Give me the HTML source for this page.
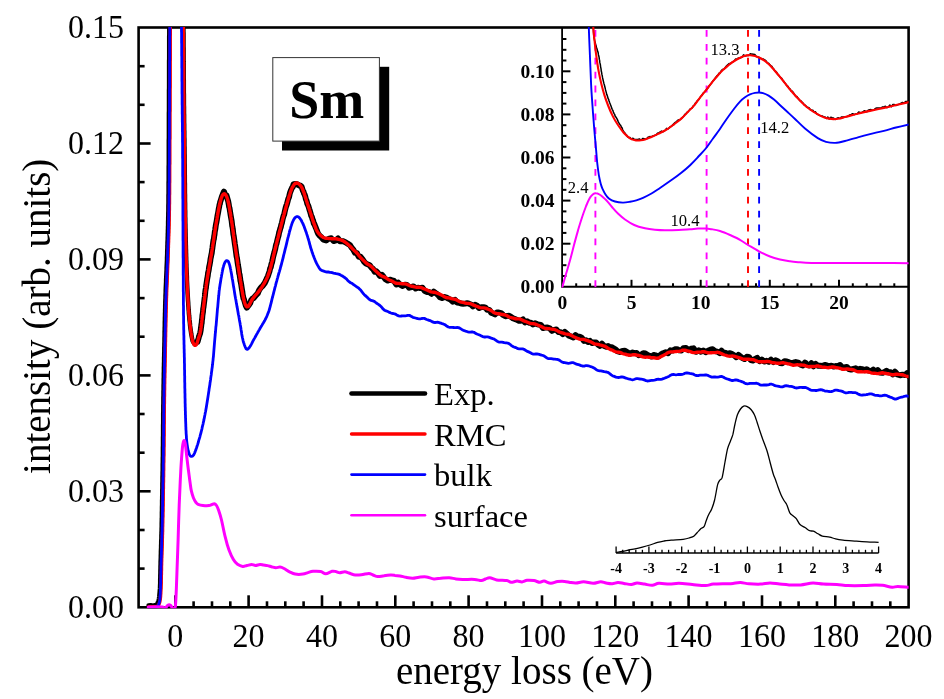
<!DOCTYPE html>
<html><head><meta charset="utf-8"><title>Sm EELS</title>
<style>html,body{margin:0;padding:0;background:#fff;}body{width:944px;height:699px;position:relative;overflow:hidden;font-family:"Liberation Serif",serif;}</style>
</head><body>
<svg width="944" height="699" viewBox="0 0 944 699" style="position:absolute;left:0;top:0;will-change:transform">
<defs><clipPath id="cm"><rect x="138.6" y="26.9" width="770.0" height="581.3"/></clipPath>
<clipPath id="ci"><rect x="561.4" y="26.9" width="347.2" height="260.8"/></clipPath></defs>
<g stroke="#000" stroke-width="2.6" fill="none">
<rect x="138.6" y="27.5" width="770.0" height="579.8"/>
<line x1="138.6" y1="568.6" x2="144.6" y2="568.6"/>
<line x1="138.6" y1="530.0" x2="144.6" y2="530.0"/>
<line x1="138.6" y1="491.3" x2="150.6" y2="491.3"/>
<line x1="138.6" y1="452.7" x2="144.6" y2="452.7"/>
<line x1="138.6" y1="414.0" x2="144.6" y2="414.0"/>
<line x1="138.6" y1="375.4" x2="150.6" y2="375.4"/>
<line x1="138.6" y1="336.7" x2="144.6" y2="336.7"/>
<line x1="138.6" y1="298.1" x2="144.6" y2="298.1"/>
<line x1="138.6" y1="259.4" x2="150.6" y2="259.4"/>
<line x1="138.6" y1="220.8" x2="144.6" y2="220.8"/>
<line x1="138.6" y1="182.1" x2="144.6" y2="182.1"/>
<line x1="138.6" y1="143.5" x2="150.6" y2="143.5"/>
<line x1="138.6" y1="104.8" x2="144.6" y2="104.8"/>
<line x1="138.6" y1="66.2" x2="144.6" y2="66.2"/>
<line x1="157.0" y1="607.3" x2="157.0" y2="601.3"/>
<line x1="175.3" y1="607.3" x2="175.3" y2="595.3"/>
<line x1="193.6" y1="607.3" x2="193.6" y2="601.3"/>
<line x1="212.0" y1="607.3" x2="212.0" y2="601.3"/>
<line x1="230.3" y1="607.3" x2="230.3" y2="601.3"/>
<line x1="248.6" y1="607.3" x2="248.6" y2="595.3"/>
<line x1="267.0" y1="607.3" x2="267.0" y2="601.3"/>
<line x1="285.3" y1="607.3" x2="285.3" y2="601.3"/>
<line x1="303.6" y1="607.3" x2="303.6" y2="601.3"/>
<line x1="322.0" y1="607.3" x2="322.0" y2="595.3"/>
<line x1="340.3" y1="607.3" x2="340.3" y2="601.3"/>
<line x1="358.6" y1="607.3" x2="358.6" y2="601.3"/>
<line x1="377.0" y1="607.3" x2="377.0" y2="601.3"/>
<line x1="395.3" y1="607.3" x2="395.3" y2="595.3"/>
<line x1="413.6" y1="607.3" x2="413.6" y2="601.3"/>
<line x1="432.0" y1="607.3" x2="432.0" y2="601.3"/>
<line x1="450.3" y1="607.3" x2="450.3" y2="601.3"/>
<line x1="468.6" y1="607.3" x2="468.6" y2="595.3"/>
<line x1="487.0" y1="607.3" x2="487.0" y2="601.3"/>
<line x1="505.3" y1="607.3" x2="505.3" y2="601.3"/>
<line x1="523.6" y1="607.3" x2="523.6" y2="601.3"/>
<line x1="542.0" y1="607.3" x2="542.0" y2="595.3"/>
<line x1="560.3" y1="607.3" x2="560.3" y2="601.3"/>
<line x1="578.6" y1="607.3" x2="578.6" y2="601.3"/>
<line x1="597.0" y1="607.3" x2="597.0" y2="601.3"/>
<line x1="615.3" y1="607.3" x2="615.3" y2="595.3"/>
<line x1="633.6" y1="607.3" x2="633.6" y2="601.3"/>
<line x1="652.0" y1="607.3" x2="652.0" y2="601.3"/>
<line x1="670.3" y1="607.3" x2="670.3" y2="601.3"/>
<line x1="688.6" y1="607.3" x2="688.6" y2="595.3"/>
<line x1="707.0" y1="607.3" x2="707.0" y2="601.3"/>
<line x1="725.3" y1="607.3" x2="725.3" y2="601.3"/>
<line x1="743.6" y1="607.3" x2="743.6" y2="601.3"/>
<line x1="762.0" y1="607.3" x2="762.0" y2="595.3"/>
<line x1="780.3" y1="607.3" x2="780.3" y2="601.3"/>
<line x1="798.6" y1="607.3" x2="798.6" y2="601.3"/>
<line x1="817.0" y1="607.3" x2="817.0" y2="601.3"/>
<line x1="835.3" y1="607.3" x2="835.3" y2="595.3"/>
<line x1="853.6" y1="607.3" x2="853.6" y2="601.3"/>
<line x1="872.0" y1="607.3" x2="872.0" y2="601.3"/>
<line x1="890.3" y1="607.3" x2="890.3" y2="601.3"/>
</g>
<g clip-path="url(#cm)" fill="none" stroke-linejoin="round" stroke-linecap="round">
<path d="M148.6 605.4 L150.6 605.2 L153.0 605.9 L155.8 604.9 L157.6 604.2 L158.2 602.7 L158.7 600.2 L159.0 598.6 L159.3 596.2 L159.5 594.0 L159.7 592.1 L159.8 590.5 L160.0 588.4 L160.1 585.1 L160.2 583.3 L160.2 581.6 L160.2 579.8 L160.3 577.9 L160.3 575.5 L160.4 573.1 L160.4 571.1 L160.5 568.4 L160.5 566.4 L160.6 564.0 L160.6 561.8 L160.7 559.8 L160.8 557.7 L160.8 555.8 L160.9 553.5 L160.9 551.7 L161.0 549.7 L161.1 547.7 L161.1 545.9 L161.2 543.7 L161.2 541.8 L161.3 539.9 L161.4 538.3 L161.4 536.6 L161.4 535.2 L161.5 534.0 L161.5 532.5 L161.6 530.8 L161.6 529.1 L161.7 526.6 L161.7 523.5 L161.8 520.0 L161.8 518.6 L161.9 517.3 L161.9 515.7 L161.9 513.9 L161.9 512.5 L162.0 510.4 L162.0 508.7 L162.0 507.0 L162.1 504.8 L162.1 503.0 L162.1 500.7 L162.2 499.0 L162.2 496.9 L162.3 494.7 L162.3 492.7 L162.3 490.2 L162.4 488.2 L162.4 486.0 L162.4 483.7 L162.5 481.5 L162.5 479.4 L162.5 477.2 L162.6 474.8 L162.6 472.7 L162.7 470.3 L162.7 468.4 L162.7 466.2 L162.7 464.3 L162.8 462.2 L162.8 459.9 L162.8 457.9 L162.9 456.1 L162.9 453.7 L162.9 451.9 L162.9 449.7 L162.9 447.7 L163.0 445.6 L163.0 443.9 L163.0 441.5 L163.0 439.5 L163.0 437.5 L163.1 435.7 L163.1 433.3 L163.1 431.4 L163.1 429.4 L163.1 427.5 L163.1 425.4 L163.2 423.4 L163.2 421.2 L163.2 419.2 L163.2 417.2 L163.2 415.4 L163.2 413.5 L163.3 411.2 L163.3 409.3 L163.3 407.4 L163.3 405.5 L163.4 403.7 L163.4 401.9 L163.4 399.9 L163.4 397.6 L163.5 395.6 L163.5 393.5 L163.5 391.5 L163.6 389.6 L163.6 387.4 L163.6 385.3 L163.7 383.3 L163.7 381.3 L163.7 379.1 L163.8 377.5 L163.8 375.5 L163.8 373.6 L163.9 371.6 L163.9 369.5 L163.9 367.5 L164.0 365.5 L164.0 363.8 L164.1 361.6 L164.1 359.7 L164.1 357.8 L164.2 355.8 L164.2 353.9 L164.3 351.8 L164.3 349.8 L164.3 347.8 L164.4 345.8 L164.4 343.9 L164.5 341.8 L164.5 340.2 L164.5 338.0 L164.6 335.8 L164.6 333.9 L164.6 331.9 L164.7 329.9 L164.7 327.8 L164.8 326.2 L164.8 324.2 L164.8 322.0 L164.9 320.0 L164.9 317.8 L165.0 315.8 L165.0 313.9 L165.1 311.9 L165.1 310.1 L165.2 307.9 L165.2 305.8 L165.3 304.2 L165.3 302.0 L165.4 299.8 L165.5 298.0 L165.5 295.8 L165.6 294.0 L165.7 292.2 L165.7 290.2 L165.8 288.1 L165.9 285.9 L166.0 283.9 L166.1 281.9 L166.1 280.1 L166.2 278.0 L166.3 276.1 L166.4 273.9 L166.5 271.9 L166.6 270.1 L166.6 268.2 L166.7 266.2 L166.8 264.1 L166.9 262.1 L167.0 260.1 L167.0 257.9 L167.1 256.0 L167.2 253.9 L167.2 251.8 L167.3 249.8 L167.4 247.9 L167.4 246.0 L167.5 244.4 L167.5 242.7 L167.6 240.8 L167.7 239.3 L167.7 237.6 L167.8 235.9 L167.8 234.0 L167.9 232.3 L167.9 230.6 L168.0 228.9 L168.0 227.1 L168.1 225.5 L168.1 223.8 L168.1 221.8 L168.2 219.7 L168.2 217.7 L168.3 215.6 L168.3 213.0 L168.4 210.9 L168.4 208.5 L168.4 205.8 L168.5 203.0 L168.5 200.0 L168.5 198.3 L168.5 197.0 L168.5 195.2 L168.6 193.7 L168.6 192.1 L168.6 190.1 L168.6 188.3 L168.6 186.7 L168.6 184.8 L168.6 182.6 L168.7 180.7 L168.7 178.7 L168.7 177.1 L168.7 175.0 L168.7 172.7 L168.7 170.9 L168.7 168.9 L168.7 166.6 L168.8 164.4 L168.8 162.3 L168.8 160.0 L168.8 157.8 L168.8 156.0 L168.8 153.7 L168.8 151.4 L168.8 149.4 L168.8 147.0 L168.8 145.0 L168.8 142.8 L168.8 140.3 L168.9 138.2 L168.9 136.0 L168.9 133.8 L168.9 131.8 L168.9 129.5 L168.9 127.4 L168.9 125.2 L168.9 123.4 L168.9 121.1 L168.9 119.1 L168.9 117.1 L168.9 115.2 L168.9 113.0 L169.0 111.2 L169.0 109.1 L169.0 107.2 L169.0 105.4 L169.0 103.3 L169.0 101.7 L169.0 99.9 L169.0 97.4 L169.0 95.3 L169.0 92.7 L169.0 90.4 L169.1 88.2 L169.1 85.8 L169.1 83.3 L169.1 81.1 L169.1 78.8 L169.1 76.6 L169.1 74.0 L169.1 72.0 L169.1 69.6 L169.1 67.4 L169.1 65.5 L169.1 63.2 L169.1 61.1 L169.2 59.0 L169.2 57.0 L169.2 54.8 L169.2 52.8 L169.2 50.8 L169.2 48.9 L169.2 47.0 L169.2 45.0 L169.2 43.2 L169.2 41.4 L169.2 39.8 L169.2 38.0 L169.2 36.4 L169.3 34.7 L169.3 32.8 L169.3 31.4 L169.3 30.1 L169.3 28.6 L169.3 26.8 L169.3 23.3 L169.3 20.4 L169.3 17.7 L169.2 15.6 L169.2 13.7 L169.1 12.3 L169.1 10.8 L169.1 9.4 L169.1 7.6 L169.2 6.3 L169.3 4.5 L169.5 2.2 L169.7 0.2 L169.9 -1.6 L170.1 -4.0 L170.3 -5.9 L170.6 -8.5 L170.8 -11.0 L171.1 -13.4 L171.4 -16.1 L171.8 -19.1 L172.1 -21.6 L172.4 -24.2 L172.8 -26.8 L173.1 -29.3 L173.5 -31.5 L173.9 -33.4 L174.2 -35.6 L174.6 -37.0 L175.0 -38.4 L175.3 -39.7 L175.7 -40.6 L176.0 -41.3 L176.3 -40.4 L176.7 -39.7 L177.1 -38.1 L177.5 -36.9 L177.9 -35.2 L178.3 -33.7 L178.7 -31.6 L179.1 -29.4 L179.5 -26.6 L179.9 -24.3 L180.3 -21.8 L180.6 -19.0 L181.0 -16.1 L181.4 -13.4 L181.7 -11.1 L182.0 -8.6 L182.3 -5.9 L182.6 -3.8 L182.8 -1.7 L183.0 -0.2 L183.2 2.2 L183.4 4.5 L183.5 6.1 L183.6 7.6 L183.6 9.4 L183.6 10.8 L183.6 12.3 L183.5 13.7 L183.5 15.9 L183.4 17.7 L183.4 20.6 L183.4 23.4 L183.4 26.9 L183.4 28.5 L183.4 30.1 L183.4 31.4 L183.5 33.1 L183.5 35.0 L183.5 36.7 L183.5 38.5 L183.5 40.4 L183.5 42.4 L183.5 44.5 L183.5 46.6 L183.6 48.7 L183.6 51.0 L183.6 53.0 L183.6 55.3 L183.6 57.4 L183.6 59.7 L183.6 61.9 L183.7 64.2 L183.7 66.4 L183.7 69.0 L183.7 71.2 L183.7 73.3 L183.7 75.7 L183.7 78.1 L183.8 79.9 L183.8 82.4 L183.8 84.4 L183.8 86.6 L183.8 88.8 L183.8 90.6 L183.8 92.6 L183.9 94.7 L183.9 96.7 L183.9 98.2 L183.9 100.1 L183.9 102.5 L183.9 104.8 L184.0 106.9 L184.0 109.0 L184.0 111.0 L184.0 113.0 L184.1 114.9 L184.1 117.1 L184.1 118.8 L184.1 120.6 L184.1 122.3 L184.2 124.4 L184.2 126.2 L184.2 127.9 L184.2 129.6 L184.3 131.4 L184.3 133.2 L184.3 135.2 L184.3 137.0 L184.4 139.1 L184.4 141.0 L184.4 143.4 L184.4 145.6 L184.5 147.7 L184.5 149.9 L184.5 151.9 L184.5 153.4 L184.6 155.3 L184.6 157.0 L184.6 159.1 L184.6 161.1 L184.6 163.1 L184.7 165.0 L184.7 167.1 L184.7 169.0 L184.7 171.2 L184.7 173.2 L184.8 175.4 L184.8 177.4 L184.8 179.5 L184.8 181.8 L184.9 183.9 L184.9 186.2 L184.9 188.4 L184.9 190.6 L184.9 192.7 L185.0 194.8 L185.0 197.0 L185.0 198.9 L185.0 200.9 L185.1 203.3 L185.1 204.9 L185.1 207.2 L185.1 209.1 L185.2 210.8 L185.2 213.0 L185.2 214.9 L185.2 216.6 L185.3 218.4 L185.3 220.1 L185.3 222.3 L185.4 224.8 L185.4 227.2 L185.5 229.6 L185.5 231.8 L185.6 234.1 L185.6 236.1 L185.7 238.4 L185.7 240.4 L185.8 242.5 L185.8 244.3 L185.9 246.2 L185.9 248.2 L186.0 250.2 L186.0 252.0 L186.1 254.1 L186.1 255.9 L186.2 257.7 L186.2 259.5 L186.3 261.3 L186.3 262.9 L186.4 264.4 L186.4 266.5 L186.5 268.1 L186.6 270.5 L186.7 272.9 L186.8 275.2 L186.9 277.2 L186.9 279.7 L187.0 281.5 L187.1 283.5 L187.2 285.6 L187.3 287.7 L187.4 289.4 L187.5 291.4 L187.6 293.4 L187.7 294.9 L187.8 296.6 L187.9 298.3 L188.0 300.1 L188.2 302.7 L188.3 305.1 L188.5 307.4 L188.6 309.3 L188.8 311.4 L188.9 313.5 L189.1 315.6 L189.3 317.3 L189.4 319.2 L189.6 320.8 L189.9 323.3 L190.1 325.7 L190.4 328.1 L190.7 330.2 L191.0 332.1 L191.2 333.7 L191.5 335.5 L192.1 338.7 L192.7 341.1 L193.3 342.1 L195.0 344.5 L196.8 343.0 L197.6 341.6 L198.5 338.5" stroke="#000" stroke-width="4.5"/>
<path d="M197.6 341.6 L198.5 338.5 L199.0 336.4 L199.5 335.1 L200.1 333.4 L200.7 330.3 L200.9 328.2 L201.2 326.3 L201.4 324.3 L201.7 323.0 L201.9 320.1 L202.2 318.2 L202.4 315.5 L202.7 313.6 L203.0 311.8 L203.2 308.7 L203.5 307.3 L203.8 304.9 L204.0 303.2 L204.3 300.9 L204.6 298.2 L204.8 296.8 L205.1 294.2 L205.3 291.6 L205.6 289.5 L205.9 288.1 L206.1 286.1 L206.4 284.1 L206.8 281.5 L207.1 279.4 L207.5 277.2 L207.8 275.7 L208.1 272.6 L208.5 271.4 L208.8 269.5 L209.2 266.5 L209.5 265.4 L209.9 263.3 L210.2 261.6 L210.5 259.0 L210.9 257.1 L211.3 255.0 L211.7 253.3 L212.1 250.1 L212.4 248.2 L212.6 246.5 L212.9 244.4 L213.2 242.2 L213.5 240.2 L213.9 238.9 L214.2 236.2 L214.5 234.7 L214.8 231.8 L215.2 229.7 L215.5 227.8 L215.8 225.4 L216.1 223.7 L216.4 222.5 L216.7 220.7 L217.1 218.2 L217.5 215.6 L217.9 213.7 L218.3 211.5 L218.7 209.0 L219.1 207.2 L219.5 204.6 L219.9 203.7 L220.2 201.8 L220.6 200.8 L221.8 196.9 L222.9 194.0 L224.0 191.6 L225.2 195.0 L226.5 195.4 L227.7 199.6 L228.1 200.9 L228.4 202.4 L228.8 204.6 L229.1 206.8 L229.5 207.9 L229.9 210.5 L230.2 212.4 L230.6 215.0 L231.0 217.3 L231.4 219.6 L231.7 221.3 L231.9 223.1 L232.2 225.8 L232.5 227.2 L232.8 228.9 L233.1 231.7 L233.3 233.8 L233.6 235.3 L233.9 237.1 L234.2 239.3 L234.5 241.3 L234.8 243.7 L235.1 245.5 L235.4 247.7 L235.7 249.7 L236.0 252.1 L236.3 254.5 L236.6 256.5 L237.0 258.2 L237.3 260.4 L237.6 262.6 L237.9 264.6 L238.3 266.7 L238.6 268.4 L238.9 270.7 L239.2 273.5 L239.6 274.5 L239.9 276.8 L240.2 278.8 L240.4 280.8 L240.7 281.7 L241.2 284.6 L241.6 287.2 L242.0 289.8 L242.4 292.1 L242.7 294.7 L243.1 296.5 L243.4 298.3 L243.8 298.8 L244.8 302.3 L245.8 305.6 L246.8 307.6 L249.5 304.1 L250.3 303.0 L251.2 300.1 L252.5 298.6 L253.6 298.2 L254.9 296.5 L256.3 294.9 L257.7 293.5 L259.0 290.4 L260.2 288.5 L261.4 286.9 L262.6 285.9 L263.7 284.4 L264.7 283.1 L265.9 280.6 L266.9 278.3 L267.9 276.2 L268.8 273.4 L269.5 271.4 L270.1 268.5 L270.8 267.2 L271.4 264.1 L272.0 262.5 L272.5 260.2 L272.9 258.0 L273.4 255.9 L273.9 254.0 L274.5 251.9 L275.3 248.7 L275.7 246.5 L276.1 244.7 L276.6 243.5 L277.0 241.6 L277.5 239.4 L278.1 237.1 L278.6 235.4 L279.1 232.5 L279.7 230.7 L280.2 228.7 L280.8 227.2 L281.3 224.7 L281.9 222.9 L282.4 220.4 L282.9 218.2 L283.5 216.1 L284.1 214.8 L284.6 212.3 L285.2 209.7 L285.8 207.2 L286.4 205.7 L287.0 203.8 L287.6 201.5 L288.1 199.4 L288.6 198.2 L289.1 196.9 L289.6 194.4 L290.0 192.8 L291.1 189.9 L292.0 187.9 L292.8 186.9 L293.5 184.3 L296.4 184.0 L299.5 185.5 L300.5 185.7 L301.6 186.7 L302.9 190.8 L303.4 191.2 L304.0 193.5 L304.6 194.5 L305.3 196.5 L305.9 199.3 L306.6 200.8 L307.3 203.7 L308.0 205.2 L308.6 206.7 L309.2 208.8 L309.9 211.0 L310.6 213.4 L311.2 215.9 L311.9 216.9 L312.5 219.2 L313.2 220.8 L313.8 223.5 L314.3 223.9 L315.3 226.5 L316.2 228.6 L317.0 230.9 L318.0 233.5 L319.7 235.8 L321.5 237.3 L323.4 239.7 L326.1 240.5 L329.0 238.6 L331.3 238.3 L333.7 241.1 L335.8 240.5 L338.0 238.5 L340.0 241.3 L342.7 241.1 L345.4 242.2 L347.0 243.2 L348.5 244.1 L350.0 245.2 L351.6 247.6 L353.3 249.6 L355.0 252.9 L356.8 252.9 L358.7 256.7 L360.6 256.8 L362.4 259.0 L364.2 261.9 L366.0 263.6 L367.8 264.4 L369.7 265.2 L371.6 267.9 L373.1 269.0 L374.7 271.8 L376.3 271.3 L378.0 273.1 L379.8 275.9 L381.8 274.7 L383.7 277.0 L385.4 279.2 L387.8 280.6 L390.0 279.6 L391.9 280.2 L394.0 280.9 L396.4 284.5 L398.3 282.7 L400.4 284.9 L402.7 286.0 L405.0 284.6 L407.0 284.9 L409.1 287.8 L411.3 287.1 L413.5 286.4 L415.7 288.5 L417.9 287.7 L420.2 288.1 L422.4 287.7 L424.6 290.9 L426.7 292.0 L429.1 291.9 L431.4 293.8 L433.7 291.6 L436.0 293.3 L438.0 294.9 L440.0 297.3 L442.0 298.1 L444.1 297.0 L446.0 297.3 L448.3 298.6 L450.5 299.6 L452.7 301.7 L455.0 299.8 L457.0 302.5 L459.0 302.7 L461.1 303.5 L463.2 303.7 L465.2 303.6 L467.1 303.2 L469.0 303.7 L470.9 304.4 L472.9 306.4 L475.0 304.7 L477.0 305.6 L479.1 308.1 L481.3 307.1 L483.4 307.1 L485.5 307.6 L487.3 309.9 L489.5 310.0 L491.3 312.9 L493.0 313.3 L495.0 314.4 L496.9 312.5 L498.9 312.5 L501.0 313.0 L503.2 315.0 L505.4 316.3 L507.2 315.9 L509.1 315.8 L511.0 316.9 L512.9 318.2 L514.9 319.0 L517.0 319.9 L518.9 320.8 L520.9 320.7 L522.9 319.4 L524.9 322.5 L527.0 321.2 L529.0 322.7 L530.9 322.6 L533.0 324.5 L535.0 323.3 L537.0 324.1 L538.9 324.7 L540.9 325.0 L543.0 328.1 L545.2 327.7 L547.4 327.4 L549.6 328.2 L551.9 330.9 L554.1 329.8 L556.3 329.5 L558.5 332.1 L560.6 332.3 L562.7 334.1 L564.8 331.9 L566.9 333.8 L569.0 335.7 L571.1 336.5 L573.3 337.4 L575.5 335.1 L577.6 336.7 L579.7 336.7 L581.7 337.6 L583.9 340.9 L586.0 340.3 L588.0 342.1 L590.0 340.9 L592.0 343.1 L594.1 342.4 L596.1 342.4 L598.2 344.7 L600.1 345.9 L602.0 343.7 L604.2 346.0 L606.2 346.7 L608.1 346.0 L610.0 347.2 L611.9 347.3 L613.7 348.5 L615.5 349.4 L617.3 351.2 L619.8 352.0 L622.4 350.9 L625.0 350.7 L627.4 352.2 L629.7 353.8 L632.6 352.5 L634.5 353.1 L636.6 352.9 L638.8 355.3 L641.1 354.6 L643.3 353.1 L645.3 353.5 L647.6 355.0 L649.7 355.9 L651.8 356.6 L653.7 354.9 L655.4 355.3 L658.4 356.6 L661.0 354.4 L663.3 353.1 L665.7 352.1 L668.1 353.2 L670.4 350.3 L672.6 350.6 L675.0 349.3 L677.0 349.1 L679.2 350.4 L681.3 350.6 L683.4 348.2 L686.0 347.9 L688.5 350.2 L691.0 348.7 L693.5 348.3 L696.0 351.8 L698.7 350.3 L700.9 351.8 L703.2 350.4 L705.6 352.2 L708.0 350.7 L710.4 349.7 L712.7 349.2 L715.2 351.2 L717.8 351.8 L719.7 353.1 L721.6 350.7 L723.6 353.1 L725.7 352.8 L727.8 353.8 L730.0 353.1 L732.0 354.0 L734.1 355.3 L736.3 357.2 L738.4 354.9 L740.6 356.6 L742.6 358.2 L744.5 359.1 L746.8 356.8 L748.9 356.9 L750.9 360.1 L752.9 360.5 L755.0 359.0 L757.2 357.8 L759.5 361.2 L761.8 359.5 L764.2 361.6 L766.7 360.8 L768.8 361.8 L771.0 359.7 L773.2 362.1 L775.5 360.3 L777.8 361.2 L780.0 363.0 L782.2 363.2 L784.5 361.1 L786.8 361.5 L789.1 362.3 L791.3 363.0 L793.4 362.7 L795.8 362.0 L798.2 362.6 L800.5 364.6 L802.8 365.4 L805.0 362.5 L807.2 364.6 L809.3 365.6 L811.4 363.2 L813.5 366.3 L815.7 363.9 L817.9 365.8 L820.2 365.7 L822.5 366.0 L824.8 365.0 L827.0 365.5 L829.2 366.1 L831.4 365.7 L833.5 366.6 L835.7 366.0 L837.9 366.1 L840.1 365.0 L842.3 367.4 L844.5 367.4 L846.8 366.9 L849.0 369.1 L851.2 369.6 L853.5 368.9 L855.7 368.3 L858.0 369.7 L860.2 368.8 L862.4 369.1 L864.5 370.3 L866.7 369.3 L868.8 370.7 L871.0 371.1 L873.2 369.6 L875.5 371.9 L877.7 370.1 L880.0 372.6 L882.4 372.9 L884.4 372.1 L886.5 370.7 L888.6 372.5 L890.7 372.2 L892.8 374.4 L895.0 371.7 L897.4 374.5 L900.0 375.3 L902.6 374.6 L905.0 375.1 L907.1 373.1 L908.6 376.0" stroke="#000" stroke-width="5.9"/>
<path d="M148.6 607.0 L150.0 606.8 L151.0 606.8 L152.3 606.8 L153.7 606.7 L155.0 606.7 L156.0 606.6 L157.4 606.2 L158.2 605.5 L159.0 604.3 L159.6 602.5 L159.9 601.5 L160.1 600.3 L160.3 598.9 L160.5 597.0 L160.6 596.1 L160.6 595.2 L160.7 594.3 L160.8 593.3 L160.8 592.2 L160.9 591.0 L160.9 589.8 L161.0 588.3 L161.0 586.8 L161.1 585.0 L161.1 584.0 L161.2 583.0 L161.2 581.9 L161.2 580.8 L161.2 579.5 L161.3 578.3 L161.3 577.0 L161.3 575.7 L161.4 574.4 L161.4 573.0 L161.4 571.6 L161.5 570.3 L161.5 568.9 L161.5 567.5 L161.5 566.2 L161.6 564.9 L161.6 563.6 L161.6 562.4 L161.7 561.2 L161.7 560.0 L161.7 558.6 L161.8 557.3 L161.8 555.9 L161.9 554.6 L161.9 553.4 L161.9 552.1 L162.0 550.9 L162.0 549.7 L162.0 548.5 L162.1 547.3 L162.1 546.1 L162.2 544.9 L162.2 543.7 L162.2 542.5 L162.3 541.2 L162.3 540.0 L162.3 538.8 L162.4 537.8 L162.4 536.8 L162.4 535.9 L162.4 535.1 L162.5 534.3 L162.5 533.4 L162.5 532.5 L162.6 531.5 L162.6 530.4 L162.6 529.2 L162.6 527.8 L162.7 526.2 L162.7 524.4 L162.8 522.3 L162.8 520.0 L162.8 519.2 L162.8 518.3 L162.8 517.5 L162.9 516.6 L162.9 515.6 L162.9 514.7 L162.9 513.7 L162.9 512.7 L163.0 511.6 L163.0 510.6 L163.0 509.5 L163.0 508.4 L163.0 507.2 L163.1 506.1 L163.1 504.9 L163.1 503.8 L163.1 502.6 L163.1 501.3 L163.2 500.1 L163.2 498.9 L163.2 497.6 L163.2 496.4 L163.2 495.1 L163.3 493.8 L163.3 492.5 L163.3 491.2 L163.3 489.9 L163.4 488.6 L163.4 487.2 L163.4 485.9 L163.4 484.6 L163.4 483.3 L163.5 481.9 L163.5 480.6 L163.5 479.3 L163.5 477.9 L163.6 476.6 L163.6 475.3 L163.6 474.0 L163.6 472.6 L163.6 471.3 L163.7 470.0 L163.7 468.7 L163.7 467.5 L163.7 466.2 L163.7 464.9 L163.7 463.7 L163.8 462.4 L163.8 461.2 L163.8 460.0 L163.8 458.8 L163.8 457.6 L163.8 456.4 L163.9 455.2 L163.9 454.0 L163.9 452.7 L163.9 451.5 L163.9 450.3 L163.9 449.1 L163.9 447.8 L164.0 446.6 L164.0 445.4 L164.0 444.1 L164.0 442.9 L164.0 441.7 L164.0 440.5 L164.0 439.2 L164.0 438.0 L164.0 436.8 L164.1 435.5 L164.1 434.3 L164.1 433.1 L164.1 431.8 L164.1 430.6 L164.1 429.4 L164.1 428.2 L164.1 426.9 L164.1 425.7 L164.1 424.5 L164.2 423.3 L164.2 422.1 L164.2 420.9 L164.2 419.7 L164.2 418.5 L164.2 417.3 L164.2 416.1 L164.2 414.9 L164.2 413.7 L164.3 412.5 L164.3 411.4 L164.3 410.2 L164.3 409.0 L164.3 407.9 L164.3 406.7 L164.3 405.6 L164.3 404.5 L164.4 403.3 L164.4 402.2 L164.4 401.1 L164.4 400.0 L164.4 398.7 L164.4 397.3 L164.5 396.0 L164.5 394.7 L164.5 393.4 L164.5 392.1 L164.5 390.9 L164.6 389.6 L164.6 388.4 L164.6 387.1 L164.6 385.9 L164.6 384.6 L164.7 383.4 L164.7 382.2 L164.7 381.0 L164.7 379.8 L164.7 378.6 L164.8 377.4 L164.8 376.2 L164.8 375.0 L164.8 373.8 L164.9 372.6 L164.9 371.4 L164.9 370.2 L164.9 369.0 L164.9 367.9 L165.0 366.7 L165.0 365.5 L165.0 364.3 L165.0 363.2 L165.1 362.0 L165.1 360.8 L165.1 359.6 L165.1 358.4 L165.2 357.2 L165.2 356.0 L165.2 354.8 L165.2 353.6 L165.3 352.4 L165.3 351.2 L165.3 350.0 L165.3 348.8 L165.3 347.6 L165.4 346.3 L165.4 345.1 L165.4 343.9 L165.4 342.7 L165.5 341.5 L165.5 340.2 L165.5 339.0 L165.5 337.8 L165.6 336.6 L165.6 335.4 L165.6 334.1 L165.6 332.9 L165.7 331.7 L165.7 330.5 L165.7 329.3 L165.7 328.0 L165.8 326.8 L165.8 325.6 L165.8 324.4 L165.8 323.2 L165.9 322.0 L165.9 320.7 L165.9 319.5 L165.9 318.3 L166.0 317.1 L166.0 315.9 L166.0 314.6 L166.0 313.4 L166.1 312.2 L166.1 311.0 L166.1 309.8 L166.2 308.5 L166.2 307.3 L166.2 306.1 L166.3 304.9 L166.3 303.7 L166.3 302.4 L166.4 301.2 L166.4 300.0 L166.4 298.8 L166.5 297.6 L166.5 296.3 L166.6 295.1 L166.6 293.9 L166.6 292.7 L166.7 291.5 L166.7 290.2 L166.8 289.0 L166.8 287.8 L166.9 286.6 L166.9 285.4 L167.0 284.1 L167.0 282.9 L167.1 281.7 L167.1 280.5 L167.2 279.3 L167.2 278.0 L167.3 276.8 L167.3 275.6 L167.4 274.4 L167.4 273.2 L167.5 272.0 L167.5 270.7 L167.6 269.5 L167.6 268.3 L167.7 267.1 L167.7 265.9 L167.8 264.6 L167.8 263.4 L167.9 262.2 L167.9 261.0 L168.0 259.8 L168.0 258.5 L168.1 257.3 L168.1 256.1 L168.1 254.9 L168.2 253.7 L168.2 252.4 L168.3 251.2 L168.3 250.0 L168.3 248.8 L168.4 247.6 L168.4 246.5 L168.4 245.3 L168.5 244.2 L168.5 243.1 L168.6 242.1 L168.6 241.0 L168.6 240.0 L168.7 238.9 L168.7 237.9 L168.7 236.9 L168.8 235.9 L168.8 234.8 L168.8 233.8 L168.9 232.8 L168.9 231.8 L168.9 230.8 L168.9 229.7 L169.0 228.7 L169.0 227.6 L169.0 226.5 L169.1 225.4 L169.1 224.3 L169.1 223.1 L169.1 222.0 L169.2 220.8 L169.2 219.6 L169.2 218.3 L169.2 217.0 L169.3 215.7 L169.3 214.3 L169.3 212.9 L169.3 211.5 L169.4 210.0 L169.4 208.4 L169.4 206.9 L169.4 205.2 L169.5 203.5 L169.5 201.8 L169.5 200.0 L169.5 199.1 L169.5 198.2 L169.5 197.2 L169.5 196.2 L169.5 195.3 L169.6 194.3 L169.6 193.2 L169.6 192.2 L169.6 191.2 L169.6 190.1 L169.6 189.0 L169.6 187.9 L169.6 186.8 L169.6 185.7 L169.6 184.6 L169.6 183.5 L169.7 182.3 L169.7 181.1 L169.7 180.0 L169.7 178.8 L169.7 177.6 L169.7 176.4 L169.7 175.2 L169.7 173.9 L169.7 172.7 L169.7 171.5 L169.7 170.2 L169.7 169.0 L169.7 167.7 L169.7 166.4 L169.7 165.1 L169.8 163.9 L169.8 162.6 L169.8 161.3 L169.8 160.0 L169.8 158.7 L169.8 157.4 L169.8 156.0 L169.8 154.7 L169.8 153.4 L169.8 152.1 L169.8 150.8 L169.8 149.5 L169.8 148.1 L169.8 146.8 L169.8 145.5 L169.8 144.2 L169.8 142.8 L169.8 141.5 L169.8 140.2 L169.9 138.9 L169.9 137.6 L169.9 136.2 L169.9 134.9 L169.9 133.6 L169.9 132.3 L169.9 131.0 L169.9 129.7 L169.9 128.4 L169.9 127.1 L169.9 125.9 L169.9 124.6 L169.9 123.3 L169.9 122.1 L169.9 120.8 L169.9 119.6 L169.9 118.3 L169.9 117.1 L169.9 115.9 L169.9 114.7 L169.9 113.5 L169.9 112.3 L170.0 111.1 L170.0 109.9 L170.0 108.8 L170.0 107.6 L170.0 106.5 L170.0 105.4 L170.0 104.3 L170.0 103.2 L170.0 102.1 L170.0 101.0 L170.0 100.0 L170.0 98.6 L170.0 97.1 L170.0 95.7 L170.0 94.3 L170.0 92.8 L170.0 91.4 L170.0 90.0 L170.0 88.6 L170.1 87.1 L170.1 85.7 L170.1 84.3 L170.1 82.9 L170.1 81.5 L170.1 80.2 L170.1 78.8 L170.1 77.4 L170.1 76.0 L170.1 74.7 L170.1 73.3 L170.1 72.0 L170.1 70.6 L170.1 69.3 L170.1 68.0 L170.1 66.6 L170.1 65.3 L170.1 64.0 L170.1 62.8 L170.1 61.5 L170.2 60.2 L170.2 58.9 L170.2 57.7 L170.2 56.4 L170.2 55.2 L170.2 54.0 L170.2 52.8 L170.2 51.6 L170.2 50.4 L170.2 49.2 L170.2 48.1 L170.2 46.9 L170.2 45.8 L170.2 44.7 L170.2 43.6 L170.2 42.5 L170.2 41.4 L170.2 40.3 L170.2 39.3 L170.2 38.2 L170.2 37.2 L170.2 36.2 L170.3 35.2 L170.3 34.2 L170.3 33.3 L170.3 32.3 L170.3 31.4 L170.3 30.5 L170.3 29.6 L170.3 28.7 L170.3 27.8 L170.3 27.0 L170.3 24.8 L170.3 22.9 L170.3 21.1 L170.3 19.5 L170.3 18.0 L170.3 16.7 L170.3 15.5 L170.2 14.3 L170.2 13.3 L170.2 12.3 L170.2 11.4 L170.2 10.6 L170.2 9.7 L170.2 8.8 L170.2 8.0 L170.2 7.1 L170.3 6.1 L170.3 5.1 L170.4 4.0 L170.5 2.8 L170.6 1.5 L170.7 0.0 L170.8 -1.1 L170.9 -2.2 L171.0 -3.4 L171.1 -4.8 L171.2 -6.1 L171.3 -7.6 L171.5 -9.0 L171.6 -10.6 L171.7 -12.1 L171.9 -13.7 L172.0 -15.3 L172.2 -17.0 L172.4 -18.6 L172.5 -20.2 L172.7 -21.8 L172.9 -23.4 L173.0 -25.0 L173.2 -26.5 L173.4 -28.0 L173.6 -29.4 L173.7 -30.8 L173.9 -32.1 L174.1 -33.4 L174.3 -34.5 L174.5 -35.6 L174.7 -36.6 L174.9 -37.4 L175.1 -38.2 L175.2 -38.8 L175.4 -39.3 L175.6 -39.7 L175.8 -39.9 L176.0 -40.0 L176.2 -39.9 L176.4 -39.7 L176.6 -39.3 L176.8 -38.8 L177.0 -38.2 L177.3 -37.4 L177.5 -36.6 L177.7 -35.6 L178.0 -34.5 L178.2 -33.4 L178.5 -32.1 L178.7 -30.8 L178.9 -29.4 L179.2 -28.0 L179.4 -26.5 L179.7 -25.0 L179.9 -23.4 L180.2 -21.8 L180.4 -20.2 L180.6 -18.6 L180.9 -17.0 L181.1 -15.3 L181.3 -13.7 L181.5 -12.1 L181.7 -10.6 L181.9 -9.0 L182.1 -7.6 L182.3 -6.1 L182.4 -4.8 L182.6 -3.4 L182.7 -2.2 L182.9 -1.1 L183.0 0.0 L183.2 1.5 L183.3 2.8 L183.4 4.0 L183.5 5.1 L183.5 6.1 L183.6 7.1 L183.6 8.0 L183.6 8.8 L183.6 9.7 L183.6 10.6 L183.6 11.4 L183.6 12.3 L183.6 13.3 L183.5 14.3 L183.5 15.5 L183.5 16.7 L183.4 18.0 L183.4 19.5 L183.4 21.1 L183.4 22.9 L183.4 24.8 L183.4 27.0 L183.4 27.8 L183.4 28.7 L183.4 29.6 L183.4 30.6 L183.4 31.5 L183.4 32.5 L183.5 33.6 L183.5 34.6 L183.5 35.7 L183.5 36.8 L183.5 37.9 L183.5 39.0 L183.5 40.2 L183.5 41.4 L183.5 42.6 L183.5 43.8 L183.5 45.0 L183.5 46.2 L183.5 47.5 L183.6 48.8 L183.6 50.1 L183.6 51.4 L183.6 52.7 L183.6 54.0 L183.6 55.3 L183.6 56.7 L183.6 58.0 L183.6 59.3 L183.6 60.7 L183.6 62.1 L183.6 63.4 L183.7 64.8 L183.7 66.2 L183.7 67.5 L183.7 68.9 L183.7 70.2 L183.7 71.6 L183.7 73.0 L183.7 74.3 L183.7 75.7 L183.7 77.0 L183.7 78.3 L183.7 79.7 L183.8 81.0 L183.8 82.3 L183.8 83.6 L183.8 84.9 L183.8 86.1 L183.8 87.4 L183.8 88.6 L183.8 89.9 L183.8 91.1 L183.8 92.3 L183.8 93.4 L183.9 94.6 L183.9 95.7 L183.9 96.8 L183.9 97.9 L183.9 99.0 L183.9 100.0 L183.9 101.5 L183.9 102.9 L183.9 104.3 L184.0 105.7 L184.0 107.0 L184.0 108.4 L184.0 109.6 L184.0 110.9 L184.0 112.1 L184.0 113.3 L184.0 114.5 L184.1 115.7 L184.1 116.9 L184.1 118.0 L184.1 119.1 L184.1 120.3 L184.1 121.4 L184.1 122.5 L184.2 123.6 L184.2 124.6 L184.2 125.7 L184.2 126.8 L184.2 127.9 L184.2 129.0 L184.2 130.1 L184.3 131.2 L184.3 132.3 L184.3 133.5 L184.3 134.6 L184.3 135.8 L184.3 136.9 L184.4 138.1 L184.4 139.3 L184.4 140.6 L184.4 141.8 L184.4 143.1 L184.4 144.4 L184.4 145.8 L184.5 147.1 L184.5 148.6 L184.5 150.0 L184.5 151.0 L184.5 152.1 L184.5 153.2 L184.5 154.3 L184.6 155.4 L184.6 156.5 L184.6 157.7 L184.6 158.8 L184.6 160.0 L184.6 161.2 L184.6 162.4 L184.6 163.6 L184.7 164.8 L184.7 166.0 L184.7 167.2 L184.7 168.5 L184.7 169.7 L184.7 171.0 L184.7 172.2 L184.7 173.5 L184.8 174.8 L184.8 176.1 L184.8 177.4 L184.8 178.6 L184.8 179.9 L184.8 181.2 L184.8 182.5 L184.8 183.8 L184.9 185.1 L184.9 186.4 L184.9 187.7 L184.9 189.0 L184.9 190.3 L184.9 191.6 L184.9 192.9 L185.0 194.2 L185.0 195.4 L185.0 196.7 L185.0 198.0 L185.0 199.2 L185.0 200.5 L185.0 201.7 L185.1 203.0 L185.1 204.2 L185.1 205.4 L185.1 206.6 L185.1 207.8 L185.1 209.0 L185.2 210.2 L185.2 211.3 L185.2 212.5 L185.2 213.6 L185.2 214.7 L185.2 215.8 L185.2 216.9 L185.3 217.9 L185.3 219.0 L185.3 220.0 L185.3 221.5 L185.4 222.9 L185.4 224.3 L185.4 225.8 L185.4 227.2 L185.5 228.5 L185.5 229.9 L185.5 231.3 L185.5 232.6 L185.6 233.9 L185.6 235.2 L185.6 236.5 L185.6 237.8 L185.7 239.1 L185.7 240.3 L185.7 241.6 L185.8 242.8 L185.8 244.0 L185.8 245.2 L185.9 246.4 L185.9 247.6 L185.9 248.7 L185.9 249.9 L186.0 251.0 L186.0 252.1 L186.0 253.3 L186.1 254.4 L186.1 255.5 L186.1 256.6 L186.2 257.6 L186.2 258.7 L186.2 259.8 L186.3 260.8 L186.3 261.9 L186.3 262.9 L186.4 263.9 L186.4 265.0 L186.4 266.0 L186.5 267.0 L186.5 268.0 L186.6 269.5 L186.6 271.0 L186.7 272.5 L186.7 273.9 L186.8 275.3 L186.8 276.7 L186.9 278.1 L186.9 279.4 L187.0 280.7 L187.1 282.0 L187.1 283.2 L187.2 284.5 L187.2 285.7 L187.3 286.9 L187.3 288.1 L187.4 289.2 L187.5 290.4 L187.5 291.5 L187.6 292.6 L187.6 293.7 L187.7 294.8 L187.8 295.8 L187.8 296.9 L187.9 297.9 L187.9 299.0 L188.0 300.0 L188.1 301.5 L188.2 303.0 L188.3 304.4 L188.4 305.8 L188.5 307.2 L188.5 308.5 L188.6 309.8 L188.7 311.0 L188.8 312.2 L188.9 313.4 L189.0 314.5 L189.1 315.6 L189.2 316.7 L189.3 317.8 L189.4 318.9 L189.5 320.0 L189.6 321.0 L189.7 322.5 L189.9 323.9 L190.1 325.2 L190.2 326.6 L190.4 327.8 L190.5 329.1 L190.7 330.3 L190.9 331.4 L191.0 332.5 L191.2 333.6 L191.3 334.6 L191.5 335.5 L191.8 337.2 L192.1 338.8 L192.4 340.1 L192.7 341.3 L193.0 342.3 L193.3 343.2 L194.2 344.9 L195.0 345.4 L195.9 345.0 L196.8 343.6 L197.2 342.6 L197.6 341.4 L198.0 339.9 L198.5 338.3 L198.8 337.4 L199.1 336.5 L199.4 335.6 L199.7 334.6 L200.0 333.4 L200.3 331.8 L200.7 329.8 L200.8 328.9 L201.0 328.0 L201.1 327.0 L201.2 325.9 L201.4 324.8 L201.5 323.7 L201.7 322.4 L201.8 321.2 L202.0 319.9 L202.1 318.6 L202.3 317.3 L202.4 316.0 L202.6 314.7 L202.7 313.4 L202.9 312.0 L203.0 310.7 L203.2 309.5 L203.3 308.2 L203.5 307.0 L203.7 305.8 L203.8 304.6 L204.0 303.4 L204.1 302.1 L204.3 300.9 L204.4 299.6 L204.6 298.4 L204.7 297.2 L204.9 295.9 L205.0 294.7 L205.2 293.5 L205.3 292.3 L205.5 291.1 L205.6 289.9 L205.8 288.7 L205.9 287.6 L206.1 286.5 L206.2 285.4 L206.4 284.3 L206.6 282.9 L206.8 281.5 L207.0 280.2 L207.2 279.0 L207.4 277.7 L207.6 276.5 L207.8 275.3 L208.0 274.1 L208.2 272.9 L208.4 271.8 L208.6 270.6 L208.8 269.4 L209.0 268.2 L209.2 267.0 L209.4 265.8 L209.6 264.7 L209.8 263.6 L210.0 262.5 L210.2 261.4 L210.3 260.4 L210.5 259.3 L210.7 258.2 L210.9 257.0 L211.1 255.8 L211.4 254.5 L211.6 253.1 L211.8 251.6 L212.1 250.0 L212.3 249.0 L212.4 248.0 L212.6 247.0 L212.7 245.9 L212.9 244.7 L213.1 243.5 L213.3 242.3 L213.5 241.1 L213.7 239.8 L213.9 238.6 L214.0 237.3 L214.2 236.0 L214.4 234.7 L214.6 233.4 L214.8 232.1 L215.0 230.8 L215.2 229.5 L215.4 228.3 L215.6 227.0 L215.8 225.8 L216.0 224.6 L216.2 223.5 L216.4 222.4 L216.5 221.3 L216.7 220.3 L217.0 218.8 L217.2 217.3 L217.5 215.8 L217.7 214.3 L218.0 212.9 L218.2 211.6 L218.5 210.2 L218.7 209.0 L219.0 207.7 L219.2 206.5 L219.4 205.4 L219.7 204.3 L219.9 203.3 L220.1 202.3 L220.4 201.4 L220.6 200.5 L221.2 198.5 L221.8 196.8 L222.3 195.5 L222.9 194.6 L223.4 194.0 L224.0 193.8 L224.7 193.9 L225.5 194.6 L226.2 195.7 L227.0 197.4 L227.7 199.7 L227.9 200.5 L228.1 201.4 L228.3 202.3 L228.6 203.2 L228.8 204.3 L229.0 205.3 L229.2 206.4 L229.4 207.6 L229.6 208.8 L229.8 210.1 L230.0 211.4 L230.2 212.7 L230.5 214.1 L230.7 215.5 L230.9 217.0 L231.2 218.5 L231.4 220.0 L231.6 221.0 L231.7 222.1 L231.9 223.2 L232.1 224.3 L232.2 225.4 L232.4 226.6 L232.6 227.8 L232.7 229.0 L232.9 230.3 L233.1 231.5 L233.3 232.8 L233.5 234.1 L233.6 235.4 L233.8 236.7 L234.0 238.0 L234.2 239.3 L234.4 240.6 L234.5 241.9 L234.7 243.2 L234.9 244.5 L235.1 245.8 L235.3 247.1 L235.5 248.3 L235.6 249.6 L235.8 250.8 L236.0 252.0 L236.2 253.2 L236.4 254.5 L236.6 255.8 L236.8 257.0 L237.0 258.3 L237.2 259.6 L237.4 260.9 L237.6 262.2 L237.8 263.5 L237.9 264.7 L238.1 266.0 L238.3 267.3 L238.5 268.5 L238.7 269.8 L238.9 271.0 L239.1 272.2 L239.3 273.4 L239.5 274.6 L239.7 275.7 L239.9 276.8 L240.0 277.9 L240.2 279.0 L240.4 280.0 L240.5 281.0 L240.7 282.0 L241.0 283.7 L241.2 285.2 L241.5 286.8 L241.7 288.2 L241.9 289.6 L242.1 290.9 L242.4 292.2 L242.6 293.4 L242.8 294.5 L243.0 295.6 L243.2 296.7 L243.4 297.6 L243.6 298.6 L243.8 299.5 L244.3 301.4 L244.8 303.0 L245.3 304.4 L245.8 305.5 L246.3 306.3 L246.8 306.8 L248.2 306.5 L249.5 304.5 L250.0 303.6 L250.5 302.6 L251.0 301.5 L251.7 300.3 L252.5 299.0 L253.2 298.1 L253.9 297.2 L254.7 296.2 L255.6 295.2 L256.5 294.2 L257.3 293.2 L258.2 292.1 L259.0 291.1 L259.8 290.1 L260.5 289.0 L261.3 287.9 L262.0 286.9 L262.7 285.8 L263.4 284.7 L264.1 283.6 L264.7 282.5 L265.3 281.4 L265.9 280.3 L266.4 279.3 L266.9 278.2 L267.4 277.1 L267.9 275.9 L268.3 274.7 L268.8 273.5 L269.2 272.3 L269.6 271.2 L269.9 269.9 L270.3 268.7 L270.6 267.4 L271.0 266.1 L271.3 264.7 L271.6 263.4 L272.0 262.0 L272.3 260.9 L272.5 259.9 L272.8 258.9 L273.0 257.9 L273.3 256.9 L273.5 255.9 L273.8 254.7 L274.1 253.4 L274.4 252.0 L274.8 250.4 L275.3 248.5 L275.5 247.6 L275.8 246.6 L276.0 245.6 L276.3 244.6 L276.6 243.5 L276.8 242.4 L277.1 241.2 L277.4 240.0 L277.7 238.7 L278.1 237.5 L278.4 236.2 L278.7 234.9 L279.0 233.6 L279.4 232.3 L279.7 231.0 L280.0 229.7 L280.4 228.4 L280.7 227.1 L281.0 225.8 L281.3 224.5 L281.7 223.3 L282.0 222.1 L282.3 220.9 L282.6 219.7 L282.9 218.6 L283.3 217.3 L283.6 216.0 L284.0 214.6 L284.3 213.3 L284.7 211.9 L285.1 210.6 L285.4 209.2 L285.8 207.9 L286.2 206.6 L286.5 205.3 L286.9 204.1 L287.2 202.8 L287.6 201.6 L287.9 200.4 L288.2 199.3 L288.6 198.2 L288.9 197.1 L289.2 196.1 L289.5 195.2 L289.7 194.3 L290.0 193.5 L290.7 191.4 L291.3 189.8 L291.8 188.6 L292.2 187.6 L292.6 186.9 L293.1 186.2 L293.5 185.5 L294.5 184.1 L295.4 183.3 L296.4 183.0 L297.9 183.2 L299.5 184.5 L300.1 185.2 L300.7 185.9 L301.4 186.8 L302.1 188.1 L302.9 190.0 L303.2 190.8 L303.5 191.7 L303.9 192.7 L304.3 193.7 L304.6 194.8 L305.0 196.0 L305.4 197.2 L305.8 198.4 L306.2 199.7 L306.6 201.0 L307.0 202.2 L307.4 203.5 L307.8 204.7 L308.2 205.9 L308.6 207.1 L309.0 208.3 L309.4 209.5 L309.8 210.7 L310.2 211.9 L310.6 213.2 L311.0 214.4 L311.4 215.6 L311.8 216.9 L312.2 218.1 L312.5 219.2 L312.9 220.4 L313.3 221.4 L313.6 222.5 L314.0 223.4 L314.3 224.3 L314.9 226.0 L315.5 227.4 L315.9 228.6 L316.4 229.7 L316.9 230.7 L317.4 231.6 L318.0 232.5 L318.8 233.6 L319.7 234.6 L320.6 235.4 L321.5 236.2 L322.5 236.9 L323.4 237.5 L324.8 238.0 L326.1 238.3 L327.5 238.4 L329.0 238.5 L330.3 238.6 L331.8 238.7 L333.2 238.8 L334.6 238.7 L335.8 238.8 L337.3 239.0 L338.6 239.3 L340.0 239.7 L341.3 240.1 L342.7 240.6 L344.1 241.4 L345.4 242.4 L346.4 243.1 L347.3 243.9 L348.2 244.6 L349.1 245.4 L350.0 246.2 L350.8 247.0 L351.6 247.8 L352.4 248.7 L353.3 249.6 L354.1 250.4 L355.0 251.2 L355.9 252.0 L356.8 253.0 L357.8 254.1 L358.7 255.3 L359.7 256.5 L360.6 257.6 L361.5 258.5 L362.4 259.4 L363.3 260.2 L364.2 261.1 L365.1 262.0 L366.0 262.9 L366.9 263.6 L367.8 264.3 L368.7 264.8 L369.7 265.4 L370.6 266.0 L371.6 266.8 L372.6 267.8 L373.6 268.9 L374.7 270.0 L375.8 271.0 L376.9 272.0 L378.0 273.0 L379.0 274.0 L380.1 274.9 L381.2 275.7 L382.4 276.3 L383.5 276.7 L384.5 277.1 L385.4 277.5 L386.7 278.3 L387.8 279.1 L388.8 279.7 L390.0 280.3 L391.1 280.7 L392.3 281.3 L393.6 282.1 L395.0 282.8 L396.4 283.3 L397.5 283.4 L398.6 283.4 L399.8 283.5 L401.1 283.6 L402.3 283.8 L403.6 283.8 L405.0 283.9 L406.1 284.0 L407.2 284.4 L408.4 285.0 L409.6 285.6 L410.8 286.0 L412.0 286.3 L413.3 286.5 L414.5 286.8 L415.7 287.1 L416.9 287.3 L418.2 287.3 L419.4 287.3 L420.7 287.4 L421.9 287.8 L423.1 288.4 L424.4 289.0 L425.6 289.4 L426.7 289.8 L427.9 290.4 L429.1 291.0 L430.3 291.6 L431.4 291.9 L432.5 292.1 L433.7 292.2 L434.8 292.3 L436.0 292.7 L437.2 293.2 L438.5 293.7 L439.7 294.1 L441.0 294.7 L442.3 295.4 L443.6 296.2 L444.8 297.0 L446.0 297.5 L447.3 297.7 L448.6 297.9 L449.9 298.2 L451.1 298.5 L452.4 298.9 L453.7 299.1 L455.0 299.3 L456.2 299.7 L457.5 300.4 L458.8 301.2 L460.0 301.8 L461.4 302.1 L462.6 302.4 L463.9 302.7 L465.2 303.1 L466.4 303.3 L467.6 303.4 L468.8 303.4 L470.0 303.6 L471.2 303.9 L472.4 304.5 L473.7 305.2 L475.0 305.7 L476.1 306.1 L477.4 306.5 L478.7 307.1 L480.0 307.6 L481.3 307.9 L482.6 307.9 L483.9 307.9 L485.1 308.1 L486.2 308.4 L487.3 308.9 L488.8 309.5 L490.1 310.0 L491.3 310.7 L492.4 311.5 L493.6 312.4 L495.0 313.1 L496.2 313.5 L497.4 313.6 L498.6 313.7 L500.0 314.0 L501.3 314.3 L502.7 314.5 L504.0 314.7 L505.4 315.0 L506.5 315.5 L507.6 316.1 L508.7 316.8 L509.8 317.3 L511.0 317.6 L512.1 317.9 L513.3 318.2 L514.5 318.5 L515.7 318.8 L517.0 318.9 L518.1 318.9 L519.2 318.9 L520.4 319.2 L521.5 319.7 L522.7 320.3 L523.9 320.9 L525.1 321.3 L526.3 321.8 L527.5 322.3 L528.7 322.8 L529.8 323.3 L530.9 323.5 L532.2 323.6 L533.4 323.7 L534.6 323.9 L535.8 324.3 L537.0 324.8 L538.2 325.3 L539.3 325.7 L540.5 326.2 L541.7 326.8 L543.0 327.5 L544.2 328.1 L545.4 328.4 L546.6 328.5 L547.8 328.6 L549.0 328.6 L550.2 328.9 L551.5 329.1 L552.7 329.2 L553.9 329.4 L555.1 329.7 L556.3 330.2 L557.5 330.9 L558.6 331.6 L559.8 332.1 L561.0 332.5 L562.1 332.8 L563.3 333.2 L564.4 333.6 L565.6 333.9 L566.7 334.1 L567.8 334.2 L569.0 334.4 L570.2 334.8 L571.3 335.4 L572.5 336.1 L573.7 336.7 L574.9 337.2 L576.1 337.7 L577.3 338.2 L578.4 338.7 L579.5 339.1 L580.6 339.4 L581.7 339.4 L583.0 339.4 L584.2 339.5 L585.3 339.9 L586.5 340.3 L587.6 340.7 L588.7 341.1 L589.8 341.5 L590.9 341.9 L592.0 342.6 L593.3 343.3 L594.6 343.8 L595.9 344.1 L597.1 344.3 L598.4 344.4 L599.6 344.8 L600.8 345.1 L602.0 345.5 L603.3 345.8 L604.5 346.1 L605.6 346.7 L606.7 347.4 L607.8 348.2 L608.9 348.8 L610.0 349.3 L611.3 349.8 L612.5 350.3 L613.7 350.9 L614.9 351.5 L616.1 351.9 L617.3 352.1 L618.6 352.2 L619.8 352.4 L621.1 352.9 L622.4 353.5 L623.7 353.9 L625.0 354.2 L626.2 354.5 L627.4 354.8 L628.5 355.0 L629.7 355.2 L631.0 355.1 L632.6 354.8 L633.7 354.7 L634.9 354.8 L636.1 355.0 L637.4 355.3 L638.8 355.5 L640.2 355.8 L641.5 356.3 L642.8 356.8 L644.1 357.1 L645.3 357.2 L646.7 357.1 L648.1 357.1 L649.5 357.3 L650.8 357.5 L652.1 357.6 L653.3 357.7 L654.4 357.8 L655.4 358.0 L657.1 358.3 L658.4 358.0 L659.6 357.4 L661.0 356.6 L662.1 356.0 L663.3 355.4 L664.5 354.8 L665.7 354.1 L666.9 353.3 L668.1 352.6 L669.5 352.1 L670.8 351.9 L672.1 351.9 L673.5 351.8 L675.0 351.6 L676.1 351.5 L677.3 351.4 L678.5 351.4 L679.8 351.2 L681.0 350.8 L682.2 350.3 L683.4 350.1 L684.7 350.2 L686.0 350.5 L687.2 350.8 L688.5 351.1 L689.7 351.4 L691.0 351.8 L692.3 352.3 L693.5 352.6 L694.7 352.6 L696.0 352.4 L697.3 352.2 L698.7 352.1 L699.9 352.1 L701.2 352.0 L702.5 351.8 L703.9 351.8 L705.3 352.0 L706.6 352.4 L708.0 352.8 L709.2 352.9 L710.4 352.8 L711.5 352.7 L712.7 352.6 L713.9 352.6 L715.2 352.6 L716.5 352.4 L717.8 352.3 L718.9 352.5 L720.0 352.9 L721.2 353.5 L722.4 354.1 L723.6 354.6 L724.8 355.0 L726.1 355.4 L727.4 355.8 L728.7 356.1 L730.0 356.2 L731.1 356.1 L732.3 356.0 L733.6 356.1 L734.8 356.4 L736.1 356.8 L737.4 357.2 L738.6 357.5 L739.9 357.9 L741.1 358.3 L742.3 358.8 L743.4 359.2 L744.5 359.3 L746.0 359.2 L747.4 359.1 L748.7 359.2 L749.9 359.4 L751.2 359.5 L752.4 359.6 L753.7 359.8 L755.0 360.3 L756.2 360.9 L757.5 361.4 L758.8 361.6 L760.0 361.7 L761.3 361.7 L762.6 361.7 L764.0 361.8 L765.3 361.7 L766.7 361.5 L767.8 361.4 L769.0 361.6 L770.2 361.9 L771.4 362.3 L772.6 362.7 L773.9 362.8 L775.1 362.9 L776.3 363.1 L777.6 363.3 L778.8 363.3 L780.0 363.2 L781.2 362.9 L782.5 362.8 L783.7 362.8 L784.9 363.1 L786.2 363.4 L787.4 363.7 L788.7 363.9 L789.9 364.2 L791.1 364.6 L792.2 365.0 L793.4 365.2 L794.8 365.1 L796.1 364.9 L797.4 364.8 L798.7 364.9 L800.0 365.0 L801.3 365.0 L802.5 365.1 L803.8 365.2 L805.0 365.6 L806.4 366.2 L807.7 366.5 L809.1 366.6 L810.4 366.5 L811.7 366.4 L813.0 366.5 L814.3 366.4 L815.7 366.2 L816.9 366.0 L818.2 366.0 L819.4 366.3 L820.7 366.7 L822.0 367.1 L823.2 367.2 L824.5 367.3 L825.8 367.4 L827.0 367.6 L828.2 367.7 L829.4 367.5 L830.7 367.3 L831.9 367.0 L833.1 367.0 L834.3 367.2 L835.5 367.5 L836.7 367.7 L837.9 367.9 L839.1 368.2 L840.4 368.5 L841.6 369.0 L842.8 369.2 L844.0 369.3 L845.3 369.1 L846.5 369.0 L847.8 369.0 L849.0 369.2 L850.2 369.4 L851.5 369.5 L852.7 369.7 L854.0 370.1 L855.2 370.7 L856.5 371.3 L857.7 371.7 L859.0 371.8 L860.2 371.8 L861.4 371.8 L862.6 371.9 L863.8 371.9 L865.0 371.8 L866.2 371.7 L867.4 371.7 L868.6 371.9 L869.8 372.3 L871.0 372.8 L872.2 373.1 L873.5 373.2 L874.7 373.3 L876.0 373.4 L877.2 373.6 L878.5 373.5 L879.8 373.3 L881.1 373.0 L882.4 372.8 L883.6 373.0 L884.8 373.3 L886.1 373.5 L887.3 373.7 L888.6 373.8 L889.8 374.1 L891.1 374.5 L892.4 374.7 L893.7 374.7 L895.0 374.4 L896.2 374.2 L897.6 374.3 L899.0 374.4 L900.4 374.6 L901.9 374.7 L903.3 375.0 L904.6 375.5 L905.8 376.0 L906.9 376.4 L907.9 376.5 L908.6 376.5" stroke="#ff0000" stroke-width="3.4"/>
<path d="M148.6 607.3 L149.5 607.3 L150.9 607.3 L152.4 607.4 L153.9 607.4 L155.0 607.3 L156.6 607.1 L157.5 606.5 L158.3 605.3 L159.0 603.5 L159.3 602.5 L159.6 601.4 L159.8 600.0 L160.0 598.0 L160.1 597.1 L160.1 596.1 L160.2 595.0 L160.3 593.9 L160.3 592.7 L160.4 591.4 L160.4 590.0 L160.5 588.5 L160.5 586.8 L160.6 585.0 L160.6 584.0 L160.7 583.0 L160.7 581.9 L160.7 580.7 L160.8 579.5 L160.8 578.2 L160.8 576.9 L160.8 575.6 L160.9 574.3 L160.9 572.9 L160.9 571.6 L161.0 570.2 L161.0 568.9 L161.0 567.5 L161.0 566.2 L161.1 564.9 L161.1 563.6 L161.1 562.4 L161.2 561.2 L161.2 560.0 L161.2 558.6 L161.3 557.3 L161.3 555.9 L161.4 554.6 L161.4 553.4 L161.4 552.1 L161.5 550.9 L161.5 549.7 L161.5 548.5 L161.6 547.3 L161.6 546.1 L161.7 544.9 L161.7 543.7 L161.7 542.5 L161.8 541.2 L161.8 540.0 L161.8 538.8 L161.9 537.8 L161.9 536.8 L161.9 535.9 L161.9 535.1 L162.0 534.3 L162.0 533.4 L162.0 532.5 L162.1 531.5 L162.1 530.4 L162.1 529.2 L162.1 527.8 L162.2 526.2 L162.2 524.4 L162.3 522.3 L162.3 520.0 L162.3 519.2 L162.3 518.3 L162.3 517.5 L162.4 516.6 L162.4 515.6 L162.4 514.7 L162.4 513.7 L162.4 512.7 L162.5 511.6 L162.5 510.6 L162.5 509.5 L162.5 508.4 L162.5 507.2 L162.6 506.1 L162.6 504.9 L162.6 503.8 L162.6 502.6 L162.6 501.3 L162.7 500.1 L162.7 498.9 L162.7 497.6 L162.7 496.4 L162.7 495.1 L162.8 493.8 L162.8 492.5 L162.8 491.2 L162.8 489.9 L162.9 488.6 L162.9 487.2 L162.9 485.9 L162.9 484.6 L162.9 483.3 L163.0 481.9 L163.0 480.6 L163.0 479.3 L163.0 477.9 L163.1 476.6 L163.1 475.3 L163.1 474.0 L163.1 472.6 L163.1 471.3 L163.2 470.0 L163.2 468.7 L163.2 467.5 L163.2 466.2 L163.2 464.9 L163.2 463.7 L163.3 462.4 L163.3 461.2 L163.3 460.0 L163.3 458.8 L163.3 457.6 L163.3 456.4 L163.4 455.2 L163.4 454.0 L163.4 452.7 L163.4 451.5 L163.4 450.3 L163.4 449.1 L163.4 447.8 L163.5 446.6 L163.5 445.4 L163.5 444.1 L163.5 442.9 L163.5 441.7 L163.5 440.5 L163.5 439.2 L163.5 438.0 L163.5 436.8 L163.6 435.5 L163.6 434.3 L163.6 433.1 L163.6 431.8 L163.6 430.6 L163.6 429.4 L163.6 428.2 L163.6 426.9 L163.6 425.7 L163.6 424.5 L163.7 423.3 L163.7 422.1 L163.7 420.9 L163.7 419.7 L163.7 418.5 L163.7 417.3 L163.7 416.1 L163.7 414.9 L163.7 413.7 L163.8 412.5 L163.8 411.4 L163.8 410.2 L163.8 409.0 L163.8 407.9 L163.8 406.7 L163.8 405.6 L163.8 404.5 L163.9 403.3 L163.9 402.2 L163.9 401.1 L163.9 400.0 L163.9 398.7 L163.9 397.3 L164.0 396.0 L164.0 394.7 L164.0 393.4 L164.0 392.1 L164.0 390.9 L164.1 389.6 L164.1 388.4 L164.1 387.1 L164.1 385.9 L164.1 384.6 L164.2 383.4 L164.2 382.2 L164.2 381.0 L164.2 379.8 L164.2 378.6 L164.3 377.4 L164.3 376.2 L164.3 375.0 L164.3 373.8 L164.4 372.6 L164.4 371.4 L164.4 370.2 L164.4 369.0 L164.4 367.9 L164.5 366.7 L164.5 365.5 L164.5 364.3 L164.5 363.2 L164.6 362.0 L164.6 360.8 L164.6 359.6 L164.6 358.4 L164.7 357.2 L164.7 356.0 L164.7 354.8 L164.7 353.6 L164.8 352.4 L164.8 351.2 L164.8 350.0 L164.8 348.8 L164.8 347.6 L164.9 346.3 L164.9 345.1 L164.9 343.9 L164.9 342.7 L165.0 341.5 L165.0 340.2 L165.0 339.0 L165.0 337.8 L165.1 336.6 L165.1 335.4 L165.1 334.1 L165.1 332.9 L165.2 331.7 L165.2 330.5 L165.2 329.3 L165.2 328.0 L165.3 326.8 L165.3 325.6 L165.3 324.4 L165.3 323.2 L165.4 322.0 L165.4 320.7 L165.4 319.5 L165.4 318.3 L165.5 317.1 L165.5 315.9 L165.5 314.6 L165.5 313.4 L165.6 312.2 L165.6 311.0 L165.6 309.8 L165.7 308.5 L165.7 307.3 L165.7 306.1 L165.8 304.9 L165.8 303.7 L165.8 302.4 L165.9 301.2 L165.9 300.0 L165.9 298.8 L166.0 297.6 L166.0 296.3 L166.1 295.1 L166.1 293.9 L166.1 292.7 L166.2 291.5 L166.2 290.2 L166.3 289.0 L166.3 287.8 L166.4 286.6 L166.4 285.4 L166.5 284.1 L166.5 282.9 L166.6 281.7 L166.6 280.5 L166.7 279.3 L166.7 278.0 L166.8 276.8 L166.8 275.6 L166.9 274.4 L166.9 273.2 L167.0 272.0 L167.0 270.7 L167.1 269.5 L167.1 268.3 L167.2 267.1 L167.2 265.9 L167.3 264.6 L167.3 263.4 L167.4 262.2 L167.4 261.0 L167.5 259.8 L167.5 258.5 L167.6 257.3 L167.6 256.1 L167.6 254.9 L167.7 253.7 L167.7 252.4 L167.8 251.2 L167.8 250.0 L167.8 248.8 L167.9 247.6 L167.9 246.5 L167.9 245.3 L168.0 244.2 L168.0 243.1 L168.1 242.1 L168.1 241.0 L168.1 240.0 L168.2 238.9 L168.2 237.9 L168.2 236.9 L168.3 235.9 L168.3 234.8 L168.3 233.8 L168.4 232.8 L168.4 231.8 L168.4 230.8 L168.4 229.7 L168.5 228.7 L168.5 227.6 L168.5 226.5 L168.6 225.4 L168.6 224.3 L168.6 223.1 L168.6 222.0 L168.7 220.8 L168.7 219.6 L168.7 218.3 L168.7 217.0 L168.8 215.7 L168.8 214.3 L168.8 212.9 L168.8 211.5 L168.9 210.0 L168.9 208.4 L168.9 206.9 L168.9 205.2 L169.0 203.5 L169.0 201.8 L169.0 200.0 L169.0 199.1 L169.0 198.2 L169.0 197.2 L169.0 196.2 L169.0 195.3 L169.1 194.3 L169.1 193.2 L169.1 192.2 L169.1 191.2 L169.1 190.1 L169.1 189.0 L169.1 187.9 L169.1 186.8 L169.1 185.7 L169.1 184.6 L169.1 183.5 L169.2 182.3 L169.2 181.1 L169.2 180.0 L169.2 178.8 L169.2 177.6 L169.2 176.4 L169.2 175.2 L169.2 173.9 L169.2 172.7 L169.2 171.5 L169.2 170.2 L169.2 169.0 L169.2 167.7 L169.2 166.4 L169.2 165.1 L169.3 163.9 L169.3 162.6 L169.3 161.3 L169.3 160.0 L169.3 158.7 L169.3 157.4 L169.3 156.0 L169.3 154.7 L169.3 153.4 L169.3 152.1 L169.3 150.8 L169.3 149.5 L169.3 148.1 L169.3 146.8 L169.3 145.5 L169.3 144.2 L169.3 142.8 L169.3 141.5 L169.3 140.2 L169.4 138.9 L169.4 137.6 L169.4 136.2 L169.4 134.9 L169.4 133.6 L169.4 132.3 L169.4 131.0 L169.4 129.7 L169.4 128.4 L169.4 127.1 L169.4 125.9 L169.4 124.6 L169.4 123.3 L169.4 122.1 L169.4 120.8 L169.4 119.6 L169.4 118.3 L169.4 117.1 L169.4 115.9 L169.4 114.7 L169.4 113.5 L169.4 112.3 L169.5 111.1 L169.5 109.9 L169.5 108.8 L169.5 107.6 L169.5 106.5 L169.5 105.4 L169.5 104.3 L169.5 103.2 L169.5 102.1 L169.5 101.0 L169.5 100.0 L169.5 98.6 L169.5 97.1 L169.5 95.7 L169.5 94.3 L169.5 92.8 L169.5 91.4 L169.5 90.0 L169.5 88.6 L169.6 87.1 L169.6 85.7 L169.6 84.3 L169.6 82.9 L169.6 81.5 L169.6 80.2 L169.6 78.8 L169.6 77.4 L169.6 76.0 L169.6 74.7 L169.6 73.3 L169.6 72.0 L169.6 70.6 L169.6 69.3 L169.6 68.0 L169.6 66.6 L169.6 65.3 L169.6 64.0 L169.6 62.8 L169.6 61.5 L169.7 60.2 L169.7 58.9 L169.7 57.7 L169.7 56.4 L169.7 55.2 L169.7 54.0 L169.7 52.8 L169.7 51.6 L169.7 50.4 L169.7 49.2 L169.7 48.1 L169.7 46.9 L169.7 45.8 L169.7 44.7 L169.7 43.6 L169.7 42.5 L169.7 41.4 L169.7 40.3 L169.7 39.3 L169.7 38.2 L169.7 37.2 L169.7 36.2 L169.8 35.2 L169.8 34.2 L169.8 33.3 L169.8 32.3 L169.8 31.4 L169.8 30.5 L169.8 29.6 L169.8 28.7 L169.8 27.8 L169.8 27.0 L169.8 24.8 L169.8 22.9 L169.8 21.1 L169.8 19.5 L169.8 18.0 L169.8 16.7 L169.8 15.5 L169.7 14.3 L169.7 13.3 L169.7 12.3 L169.7 11.4 L169.7 10.6 L169.7 9.7 L169.7 8.8 L169.7 8.0 L169.7 7.1 L169.8 6.1 L169.8 5.1 L169.9 4.0 L170.0 2.8 L170.1 1.5 L170.2 0.0 L170.3 -1.1 L170.4 -2.2 L170.5 -3.4 L170.6 -4.8 L170.7 -6.1 L170.9 -7.6 L171.0 -9.0 L171.1 -10.6 L171.3 -12.1 L171.4 -13.7 L171.6 -15.3 L171.8 -17.0 L171.9 -18.6 L172.1 -20.2 L172.3 -21.8 L172.4 -23.4 L172.6 -25.0 L172.8 -26.5 L173.0 -28.0 L173.2 -29.4 L173.4 -30.8 L173.5 -32.1 L173.7 -33.4 L173.9 -34.5 L174.1 -35.6 L174.3 -36.6 L174.5 -37.4 L174.6 -38.2 L174.8 -38.8 L175.0 -39.3 L175.2 -39.7 L175.3 -39.9 L175.5 -40.0 L175.7 -39.9 L175.8 -39.7 L176.0 -39.3 L176.2 -38.8 L176.4 -38.2 L176.6 -37.4 L176.7 -36.6 L176.9 -35.6 L177.1 -34.5 L177.3 -33.4 L177.5 -32.1 L177.7 -30.8 L177.9 -29.4 L178.1 -28.0 L178.3 -26.5 L178.5 -25.0 L178.6 -23.4 L178.8 -21.8 L179.0 -20.2 L179.2 -18.6 L179.4 -17.0 L179.5 -15.3 L179.7 -13.7 L179.9 -12.1 L180.0 -10.6 L180.2 -9.0 L180.3 -7.6 L180.4 -6.1 L180.6 -4.8 L180.7 -3.4 L180.8 -2.2 L180.9 -1.1 L181.0 0.0 L181.1 1.5 L181.2 2.8 L181.3 4.0 L181.4 5.1 L181.5 6.1 L181.5 7.1 L181.5 8.0 L181.5 8.8 L181.6 9.7 L181.6 10.6 L181.6 11.4 L181.5 12.3 L181.5 13.3 L181.5 14.3 L181.5 15.5 L181.5 16.7 L181.5 18.0 L181.5 19.5 L181.5 21.1 L181.5 22.9 L181.5 24.8 L181.5 27.0 L181.5 27.8 L181.5 28.7 L181.5 29.6 L181.5 30.6 L181.5 31.5 L181.6 32.5 L181.6 33.6 L181.6 34.6 L181.6 35.7 L181.6 36.8 L181.6 37.9 L181.6 39.0 L181.6 40.2 L181.6 41.4 L181.6 42.6 L181.7 43.8 L181.7 45.0 L181.7 46.2 L181.7 47.5 L181.7 48.8 L181.7 50.1 L181.7 51.4 L181.7 52.7 L181.7 54.0 L181.7 55.3 L181.8 56.7 L181.8 58.0 L181.8 59.3 L181.8 60.7 L181.8 62.1 L181.8 63.4 L181.8 64.8 L181.8 66.2 L181.8 67.5 L181.9 68.9 L181.9 70.2 L181.9 71.6 L181.9 73.0 L181.9 74.3 L181.9 75.7 L181.9 77.0 L181.9 78.3 L181.9 79.7 L181.9 81.0 L182.0 82.3 L182.0 83.6 L182.0 84.9 L182.0 86.1 L182.0 87.4 L182.0 88.6 L182.0 89.9 L182.0 91.1 L182.0 92.3 L182.0 93.4 L182.1 94.6 L182.1 95.7 L182.1 96.8 L182.1 97.9 L182.1 99.0 L182.1 100.0 L182.1 101.5 L182.1 102.9 L182.1 104.3 L182.2 105.6 L182.2 106.9 L182.2 108.1 L182.2 109.3 L182.2 110.4 L182.2 111.6 L182.2 112.7 L182.2 113.7 L182.3 114.8 L182.3 115.8 L182.3 116.9 L182.3 117.9 L182.3 118.9 L182.3 119.8 L182.3 120.8 L182.3 121.8 L182.4 122.8 L182.4 123.8 L182.4 124.8 L182.4 125.8 L182.4 126.9 L182.4 127.9 L182.4 129.0 L182.4 130.1 L182.4 131.2 L182.5 132.4 L182.5 133.6 L182.5 134.8 L182.5 136.1 L182.5 137.4 L182.5 138.8 L182.5 140.2 L182.5 141.7 L182.6 143.2 L182.6 144.8 L182.6 146.5 L182.6 148.2 L182.6 150.0 L182.6 150.9 L182.6 151.8 L182.6 152.8 L182.6 153.8 L182.6 154.7 L182.6 155.7 L182.6 156.8 L182.6 157.8 L182.7 158.8 L182.7 159.9 L182.7 161.0 L182.7 162.1 L182.7 163.2 L182.7 164.3 L182.7 165.4 L182.7 166.6 L182.7 167.7 L182.7 168.9 L182.7 170.1 L182.7 171.3 L182.7 172.5 L182.7 173.7 L182.7 174.9 L182.7 176.2 L182.8 177.4 L182.8 178.6 L182.8 179.9 L182.8 181.2 L182.8 182.4 L182.8 183.7 L182.8 185.0 L182.8 186.3 L182.8 187.6 L182.8 188.9 L182.8 190.2 L182.8 191.5 L182.8 192.8 L182.8 194.1 L182.8 195.4 L182.8 196.8 L182.8 198.1 L182.9 199.4 L182.9 200.7 L182.9 202.1 L182.9 203.4 L182.9 204.7 L182.9 206.0 L182.9 207.4 L182.9 208.7 L182.9 210.0 L182.9 211.3 L182.9 212.7 L182.9 214.0 L182.9 215.3 L182.9 216.6 L182.9 217.9 L182.9 219.2 L182.9 220.5 L183.0 221.8 L183.0 223.1 L183.0 224.4 L183.0 225.6 L183.0 226.9 L183.0 228.1 L183.0 229.4 L183.0 230.6 L183.0 231.9 L183.0 233.1 L183.0 234.3 L183.0 235.5 L183.0 236.7 L183.0 237.9 L183.0 239.0 L183.0 240.2 L183.1 241.3 L183.1 242.5 L183.1 243.6 L183.1 244.7 L183.1 245.8 L183.1 246.9 L183.1 247.9 L183.1 249.0 L183.1 250.0 L183.1 251.5 L183.1 252.9 L183.1 254.4 L183.1 255.8 L183.1 257.2 L183.2 258.6 L183.2 260.0 L183.2 261.4 L183.2 262.8 L183.2 264.2 L183.2 265.6 L183.2 266.9 L183.2 268.3 L183.2 269.6 L183.2 271.0 L183.2 272.3 L183.2 273.6 L183.2 274.9 L183.3 276.2 L183.3 277.5 L183.3 278.8 L183.3 280.1 L183.3 281.3 L183.3 282.6 L183.3 283.9 L183.3 285.1 L183.3 286.3 L183.3 287.5 L183.3 288.8 L183.3 290.0 L183.3 291.1 L183.4 292.3 L183.4 293.5 L183.4 294.7 L183.4 295.8 L183.4 297.0 L183.4 298.1 L183.4 299.3 L183.4 300.4 L183.4 301.5 L183.4 302.6 L183.4 303.7 L183.4 304.8 L183.5 305.9 L183.5 306.9 L183.5 308.0 L183.5 309.0 L183.5 310.1 L183.5 311.1 L183.5 312.1 L183.5 313.1 L183.5 314.1 L183.5 315.1 L183.6 316.1 L183.6 317.1 L183.6 318.1 L183.6 319.0 L183.6 320.0 L183.6 321.6 L183.6 323.2 L183.7 324.8 L183.7 326.3 L183.7 327.8 L183.7 329.2 L183.8 330.6 L183.8 332.0 L183.8 333.3 L183.8 334.6 L183.9 335.9 L183.9 337.1 L183.9 338.3 L183.9 339.5 L184.0 340.7 L184.0 341.8 L184.0 343.0 L184.0 344.1 L184.1 345.2 L184.1 346.3 L184.1 347.3 L184.1 348.4 L184.2 349.5 L184.2 350.5 L184.2 351.6 L184.2 352.6 L184.3 353.7 L184.3 354.7 L184.3 355.7 L184.3 356.8 L184.4 357.9 L184.4 358.9 L184.4 360.0 L184.4 361.4 L184.4 362.7 L184.5 364.0 L184.5 365.3 L184.5 366.6 L184.5 367.8 L184.5 369.1 L184.6 370.3 L184.6 371.5 L184.6 372.7 L184.6 373.9 L184.6 375.1 L184.7 376.2 L184.7 377.4 L184.7 378.6 L184.7 379.7 L184.7 380.9 L184.7 382.0 L184.8 383.2 L184.8 384.3 L184.8 385.5 L184.8 386.6 L184.8 387.8 L184.9 389.0 L184.9 390.2 L184.9 391.4 L184.9 392.6 L185.0 393.9 L185.0 395.1 L185.0 396.4 L185.0 397.6 L185.1 398.9 L185.1 400.2 L185.1 401.5 L185.1 402.8 L185.2 404.1 L185.2 405.4 L185.2 406.7 L185.3 407.9 L185.3 409.2 L185.3 410.5 L185.4 411.7 L185.4 412.9 L185.4 414.1 L185.5 415.3 L185.5 416.5 L185.5 417.6 L185.6 418.7 L185.6 419.8 L185.6 420.9 L185.7 421.9 L185.7 422.9 L185.8 424.5 L185.8 426.1 L185.9 427.6 L185.9 429.0 L186.0 430.4 L186.1 431.7 L186.1 433.0 L186.2 434.2 L186.3 435.4 L186.4 436.6 L186.4 437.7 L186.5 438.7 L186.6 439.8 L186.7 440.8 L186.8 441.8 L187.0 443.4 L187.2 444.9 L187.4 446.3 L187.6 447.6 L187.8 448.9 L188.1 450.0 L188.3 451.0 L188.6 451.9 L188.8 452.8 L189.5 454.8 L190.3 456.0 L191.2 456.4 L192.0 456.3 L192.8 455.9 L193.7 454.8 L194.7 452.8 L195.0 452.1 L195.3 451.2 L195.7 450.3 L196.0 449.3 L196.4 448.2 L196.8 447.0 L197.2 445.8 L197.6 444.6 L198.0 443.3 L198.4 442.0 L198.7 440.7 L199.1 439.4 L199.5 438.1 L199.9 436.8 L200.2 435.5 L200.5 434.4 L200.8 433.3 L201.1 432.1 L201.4 431.0 L201.7 429.8 L202.0 428.6 L202.2 427.4 L202.5 426.2 L202.8 425.0 L203.1 423.8 L203.3 422.6 L203.6 421.4 L203.9 420.1 L204.1 418.8 L204.4 417.6 L204.6 416.3 L204.9 415.0 L205.1 413.8 L205.3 412.7 L205.6 411.5 L205.8 410.3 L206.0 409.1 L206.2 407.9 L206.4 406.7 L206.6 405.5 L206.8 404.3 L207.0 403.1 L207.2 401.8 L207.4 400.6 L207.6 399.3 L207.8 398.0 L208.0 396.7 L208.2 395.4 L208.4 394.1 L208.6 392.8 L208.8 391.4 L209.0 390.3 L209.1 389.1 L209.3 387.9 L209.5 386.8 L209.7 385.6 L209.9 384.3 L210.0 383.1 L210.2 381.9 L210.4 380.7 L210.6 379.4 L210.7 378.2 L210.9 376.9 L211.1 375.6 L211.3 374.4 L211.4 373.1 L211.6 371.8 L211.8 370.6 L211.9 369.3 L212.1 368.1 L212.3 366.8 L212.4 365.6 L212.6 364.3 L212.7 363.1 L212.8 361.9 L213.0 360.6 L213.1 359.4 L213.2 358.1 L213.4 356.8 L213.5 355.5 L213.6 354.2 L213.7 353.0 L213.8 351.7 L213.9 350.4 L214.0 349.1 L214.1 347.8 L214.2 346.6 L214.3 345.3 L214.4 344.1 L214.5 342.9 L214.6 341.7 L214.7 340.5 L214.8 339.3 L214.9 338.2 L215.0 337.1 L215.1 336.0 L215.2 335.0 L215.3 333.5 L215.5 332.0 L215.6 330.6 L215.7 329.3 L215.8 328.0 L215.9 326.7 L216.1 325.5 L216.2 324.3 L216.3 323.1 L216.4 321.9 L216.5 320.8 L216.6 319.6 L216.7 318.4 L216.8 317.2 L216.9 316.0 L217.0 314.8 L217.1 313.5 L217.2 312.3 L217.3 311.0 L217.4 309.8 L217.5 308.5 L217.7 307.3 L217.8 306.1 L217.9 304.8 L218.0 303.6 L218.1 302.5 L218.2 301.3 L218.3 300.2 L218.4 299.1 L218.5 298.0 L218.6 296.6 L218.8 295.3 L218.9 294.1 L219.0 292.9 L219.1 291.7 L219.2 290.6 L219.4 289.4 L219.5 288.3 L219.7 287.0 L219.9 285.7 L220.1 284.3 L220.3 283.2 L220.5 282.0 L220.7 280.7 L220.9 279.4 L221.1 278.1 L221.4 276.7 L221.6 275.3 L221.9 274.0 L222.1 272.6 L222.4 271.3 L222.6 270.1 L222.9 268.9 L223.1 267.8 L223.4 266.9 L223.6 266.0 L224.3 263.9 L225.0 262.3 L225.7 261.2 L226.4 260.6 L227.1 260.6 L227.6 260.9 L228.2 261.4 L228.7 262.3 L229.2 263.7 L229.8 265.6 L230.4 268.3 L230.6 269.1 L230.8 270.0 L230.9 270.9 L231.1 271.9 L231.3 273.0 L231.5 274.1 L231.7 275.2 L231.9 276.4 L232.1 277.7 L232.3 279.0 L232.6 280.3 L232.8 281.6 L233.0 282.9 L233.2 284.2 L233.4 285.6 L233.6 286.9 L233.9 288.3 L234.1 289.6 L234.3 290.9 L234.5 292.2 L234.7 293.4 L234.9 294.7 L235.1 295.9 L235.3 297.0 L235.5 298.3 L235.8 299.6 L236.0 300.8 L236.2 302.1 L236.4 303.4 L236.7 304.7 L236.9 305.9 L237.1 307.2 L237.4 308.4 L237.6 309.7 L237.8 310.9 L238.0 312.1 L238.2 313.3 L238.4 314.5 L238.7 315.6 L238.9 316.7 L239.1 317.9 L239.3 318.9 L239.4 320.0 L239.6 321.0 L239.8 322.0 L240.1 323.5 L240.3 325.0 L240.6 326.5 L240.8 327.8 L241.0 329.2 L241.2 330.4 L241.4 331.6 L241.6 332.8 L241.7 333.9 L241.9 335.0 L242.1 336.0 L242.3 337.0 L242.5 338.0 L242.9 339.7 L243.2 341.1 L243.6 342.5 L244.0 343.6 L244.3 344.7 L244.7 345.6 L245.0 346.5 L246.0 348.7 L247.1 349.4 L248.0 349.0 L248.9 348.1 L250.0 346.5 L250.5 345.7 L251.1 344.7 L251.7 343.6 L252.3 342.4 L252.9 341.2 L253.6 339.9 L254.3 338.6 L254.9 337.6 L255.5 336.5 L256.1 335.4 L256.7 334.3 L257.4 333.1 L258.0 331.9 L258.7 330.8 L259.4 329.6 L260.0 328.5 L260.6 327.4 L261.3 326.3 L262.0 325.2 L262.6 324.1 L263.3 323.0 L263.9 321.9 L264.6 320.8 L265.2 319.7 L265.7 318.6 L266.3 317.4 L266.8 316.3 L267.3 315.1 L267.7 314.0 L268.2 312.9 L268.6 311.7 L269.1 310.4 L269.5 309.0 L269.8 307.9 L270.1 306.8 L270.4 305.7 L270.7 304.5 L271.0 303.3 L271.3 302.1 L271.6 300.9 L271.9 299.6 L272.2 298.3 L272.6 297.0 L272.9 295.7 L273.2 294.6 L273.5 293.4 L273.8 292.2 L274.1 291.0 L274.4 289.8 L274.7 288.6 L275.0 287.4 L275.4 286.1 L275.7 284.9 L276.0 283.7 L276.3 282.4 L276.7 281.2 L277.0 280.0 L277.3 278.8 L277.7 277.6 L278.0 276.4 L278.3 275.2 L278.7 274.0 L279.0 272.8 L279.4 271.6 L279.7 270.4 L280.1 269.2 L280.4 268.0 L280.7 266.7 L281.1 265.5 L281.4 264.3 L281.7 263.2 L282.0 262.0 L282.3 260.9 L282.6 259.7 L282.9 258.6 L283.2 257.4 L283.4 256.3 L283.7 255.1 L284.0 254.0 L284.3 252.8 L284.6 251.6 L284.9 250.4 L285.2 249.2 L285.5 248.0 L285.8 246.8 L286.1 245.6 L286.4 244.4 L286.7 243.1 L287.0 241.8 L287.3 240.5 L287.6 239.2 L287.9 238.0 L288.3 236.7 L288.6 235.5 L288.9 234.3 L289.2 233.1 L289.4 232.0 L289.7 231.0 L290.0 230.0 L290.5 228.3 L290.9 226.8 L291.4 225.4 L291.8 224.1 L292.2 222.9 L292.6 221.9 L293.1 220.9 L293.5 220.0 L294.4 218.5 L295.3 217.4 L296.2 216.8 L297.1 216.5 L298.3 216.8 L299.5 217.9 L300.7 219.5 L301.2 220.3 L301.7 221.2 L302.2 222.3 L302.8 223.4 L303.3 224.6 L303.8 225.8 L304.3 227.1 L304.7 228.2 L305.1 229.3 L305.5 230.4 L306.0 231.7 L306.4 232.9 L306.8 234.2 L307.2 235.4 L307.6 236.7 L308.0 238.0 L308.4 239.2 L308.7 240.4 L309.1 241.6 L309.4 242.9 L309.7 244.2 L310.1 245.4 L310.4 246.6 L310.7 247.8 L311.1 248.9 L311.4 250.0 L311.9 251.4 L312.3 252.8 L312.8 254.0 L313.2 255.2 L313.7 256.4 L314.1 257.5 L314.5 258.5 L315.0 259.8 L315.5 261.0 L316.0 262.2 L316.5 263.2 L317.1 264.3 L317.7 265.4 L318.4 266.6 L319.0 267.7 L319.7 268.7 L320.3 269.5 L321.6 270.4 L322.9 270.8 L324.4 271.4 L326.0 271.8 L327.1 272.0 L328.3 272.0 L330.0 272.3 L331.0 272.5 L332.2 272.7 L333.5 273.1 L334.8 273.4 L336.2 273.7 L337.4 273.9 L338.6 274.2 L339.8 274.6 L340.9 275.2 L341.9 275.7 L342.9 276.3 L343.9 277.0 L345.0 277.7 L346.0 278.6 L347.0 279.6 L348.0 280.7 L349.1 281.7 L350.2 282.5 L351.2 283.1 L352.3 283.6 L353.2 284.3 L354.2 285.0 L355.1 285.7 L356.1 286.4 L357.0 287.0 L358.0 287.6 L359.0 288.4 L360.0 289.4 L361.0 290.5 L362.0 291.9 L363.0 293.2 L364.1 294.4 L365.1 295.4 L366.2 296.4 L367.2 297.3 L368.1 298.3 L368.9 299.0 L370.2 299.9 L371.2 300.4 L372.1 300.6 L373.0 300.9 L374.0 301.3 L375.1 302.0 L376.3 303.0 L377.6 303.9 L378.8 304.7 L379.9 305.5 L381.0 306.5 L382.0 307.6 L382.9 308.8 L383.9 309.8 L385.0 310.5 L386.1 310.9 L387.1 311.3 L388.3 311.8 L389.5 312.4 L390.9 313.0 L392.0 313.3 L393.2 313.5 L394.5 313.8 L395.9 314.4 L397.2 315.3 L398.6 315.9 L400.0 316.1 L401.2 316.0 L402.5 315.8 L403.8 315.8 L405.2 315.8 L406.5 315.6 L407.8 315.3 L409.0 315.3 L410.2 315.7 L411.6 316.6 L412.9 317.3 L414.2 317.7 L415.4 318.0 L416.7 318.3 L418.0 318.7 L419.2 318.9 L420.4 318.8 L421.7 318.5 L423.0 318.3 L424.2 318.4 L425.5 318.9 L426.7 319.5 L427.9 319.9 L429.1 320.3 L430.3 320.7 L431.5 321.3 L432.6 321.9 L433.8 322.4 L435.0 322.5 L436.2 322.3 L437.4 322.2 L438.5 322.4 L439.7 322.8 L440.9 323.2 L442.1 323.6 L443.2 323.9 L444.5 324.5 L445.8 325.3 L447.1 326.3 L448.3 327.0 L449.7 327.3 L451.0 327.3 L452.2 327.4 L453.4 327.5 L454.7 327.6 L456.0 327.6 L457.2 327.5 L458.5 327.6 L459.7 328.1 L460.9 328.9 L462.1 329.7 L463.3 330.3 L464.5 330.7 L465.6 331.1 L466.8 331.5 L468.0 331.9 L469.2 332.2 L470.4 332.2 L471.6 332.0 L472.8 332.0 L474.0 332.3 L475.1 333.0 L476.3 333.7 L477.6 334.3 L478.9 334.8 L480.1 335.3 L481.4 335.9 L482.7 336.6 L484.0 337.0 L485.2 337.0 L486.3 336.9 L487.5 336.9 L488.7 337.2 L490.0 337.6 L491.3 338.1 L492.8 338.6 L493.8 338.9 L494.9 339.6 L496.0 340.4 L497.1 341.2 L498.3 341.8 L499.5 342.1 L500.7 342.1 L501.9 342.2 L503.1 342.4 L504.2 342.7 L505.4 342.8 L506.5 342.9 L507.7 343.1 L508.8 343.5 L510.0 344.3 L511.1 345.3 L512.3 346.1 L513.4 346.8 L514.5 347.2 L515.7 347.6 L516.8 348.1 L518.0 348.6 L519.2 348.8 L520.3 348.9 L521.5 348.8 L522.7 348.9 L523.9 349.3 L525.1 350.0 L526.3 350.8 L527.4 351.4 L528.6 351.9 L529.8 352.4 L530.9 353.0 L532.1 353.7 L533.4 354.2 L534.6 354.2 L535.7 354.0 L536.9 353.9 L538.1 354.1 L539.3 354.4 L540.5 354.8 L541.7 355.2 L543.0 355.5 L544.2 356.1 L545.3 356.8 L546.5 357.7 L547.6 358.3 L548.8 358.6 L550.0 358.6 L551.2 358.6 L552.5 358.8 L553.7 359.1 L555.0 359.2 L556.3 359.3 L557.4 359.4 L558.6 359.8 L559.8 360.5 L561.0 361.4 L562.2 362.1 L563.4 362.5 L564.7 362.7 L565.9 362.9 L567.2 363.1 L568.4 363.3 L569.6 363.1 L570.8 362.8 L572.0 362.6 L573.3 362.7 L574.6 363.3 L575.9 363.9 L577.2 364.3 L578.6 364.7 L579.9 365.1 L581.1 365.6 L582.4 366.0 L583.6 366.1 L584.7 366.0 L585.8 365.7 L586.8 365.6 L588.3 365.8 L589.7 366.3 L590.8 366.7 L591.9 367.0 L592.9 367.4 L593.9 367.9 L595.0 368.7 L596.2 369.6 L597.4 370.3 L598.5 370.7 L599.6 370.8 L600.8 370.9 L602.0 371.1 L603.1 371.4 L604.2 371.7 L605.4 371.8 L606.6 372.0 L607.7 372.3 L608.9 373.0 L610.0 373.9 L611.2 374.9 L612.4 375.7 L613.6 376.2 L614.8 376.6 L616.0 377.1 L617.3 377.4 L618.4 377.5 L619.6 377.4 L620.8 377.0 L622.0 376.9 L623.3 377.1 L624.6 377.6 L626.0 378.2 L627.2 378.5 L628.4 378.8 L629.8 379.1 L631.1 379.5 L632.5 379.8 L633.9 379.5 L635.2 379.0 L636.4 378.6 L637.6 378.6 L639.0 378.8 L640.2 379.0 L641.4 379.1 L642.5 379.3 L643.6 379.6 L644.8 380.1 L646.0 380.7 L647.3 381.0 L648.7 380.9 L650.1 380.6 L651.5 380.4 L652.9 380.3 L654.2 380.2 L655.4 379.9 L656.9 379.4 L658.3 379.2 L659.5 379.3 L660.8 379.3 L662.0 379.1 L663.2 378.7 L664.4 378.2 L665.6 377.7 L666.8 377.3 L668.1 376.8 L669.3 376.1 L670.6 375.2 L672.0 374.6 L673.3 374.5 L674.7 374.7 L676.0 374.8 L677.3 374.7 L678.5 374.5 L679.7 374.5 L680.9 374.5 L682.2 374.4 L683.4 374.0 L684.6 373.4 L685.9 373.0 L687.1 372.9 L688.4 373.1 L689.6 373.4 L691.0 373.6 L692.2 373.8 L693.5 374.2 L694.8 374.9 L696.1 375.5 L697.5 375.7 L698.8 375.5 L700.0 375.2 L701.4 375.1 L702.7 375.1 L703.9 375.1 L705.2 375.0 L706.6 375.0 L708.0 375.4 L709.1 376.0 L710.3 376.6 L711.4 377.0 L712.6 377.1 L713.9 377.0 L715.1 377.0 L716.4 377.1 L717.8 377.1 L718.9 376.9 L720.0 376.6 L721.2 376.5 L722.4 376.7 L723.6 377.3 L724.8 378.0 L726.1 378.6 L727.4 379.0 L728.7 379.4 L730.0 379.9 L731.1 380.3 L732.3 380.5 L733.6 380.3 L734.8 380.0 L736.1 379.9 L737.4 380.1 L738.6 380.6 L739.9 381.0 L741.1 381.4 L742.3 381.8 L743.4 382.3 L744.5 383.0 L746.0 383.7 L747.4 383.9 L748.7 383.7 L749.9 383.4 L751.2 383.3 L752.4 383.4 L753.7 383.4 L755.0 383.3 L756.2 383.2 L757.5 383.5 L758.8 384.1 L760.0 384.8 L761.3 385.2 L762.6 385.2 L764.0 385.0 L765.3 385.0 L766.7 385.0 L767.8 384.9 L769.0 384.6 L770.2 384.2 L771.4 384.2 L772.6 384.5 L773.9 385.1 L775.1 385.6 L776.3 385.9 L777.6 386.1 L778.8 386.4 L780.0 386.7 L781.2 386.9 L782.5 386.8 L783.7 386.4 L784.9 385.9 L786.2 385.7 L787.4 385.8 L788.7 386.1 L789.9 386.3 L791.1 386.4 L792.2 386.6 L793.4 387.0 L794.8 387.6 L796.1 388.0 L797.4 387.9 L798.7 387.6 L800.0 387.3 L801.3 387.3 L802.5 387.5 L803.8 387.5 L805.0 387.5 L806.2 387.7 L807.4 388.2 L808.6 388.9 L809.8 389.7 L811.0 390.1 L812.1 390.3 L813.3 390.3 L814.5 390.4 L815.7 390.5 L816.9 390.5 L818.2 390.2 L819.4 389.9 L820.7 389.7 L822.0 389.9 L823.2 390.3 L824.5 390.8 L825.8 391.1 L827.0 391.2 L828.2 391.3 L829.4 391.5 L830.7 391.6 L831.9 391.5 L833.1 391.0 L834.3 390.4 L835.5 390.1 L836.7 390.1 L837.9 390.4 L839.1 390.7 L840.4 390.9 L841.6 391.2 L842.8 391.6 L844.0 392.2 L845.3 392.8 L846.5 392.9 L847.8 392.7 L849.0 392.4 L850.2 392.3 L851.5 392.4 L852.7 392.6 L854.0 392.7 L855.2 392.7 L856.5 393.0 L857.7 393.7 L859.0 394.4 L860.2 394.9 L861.4 395.1 L862.6 395.0 L863.8 394.8 L865.0 394.8 L866.2 394.7 L867.4 394.5 L868.6 394.2 L869.8 393.8 L871.0 393.8 L872.2 394.1 L873.5 394.7 L874.7 395.1 L875.9 395.3 L877.2 395.3 L878.4 395.5 L879.7 395.8 L881.0 395.9 L882.4 395.6 L883.5 395.3 L884.7 395.1 L885.9 395.3 L887.2 395.8 L888.4 396.4 L889.6 396.9 L890.9 397.3 L892.1 397.8 L893.4 398.4 L894.6 399.0 L895.8 399.1 L897.2 398.7 L898.6 398.0 L900.1 397.5 L901.6 397.1 L903.0 396.8 L904.4 396.3 L905.7 396.0 L906.9 396.0 L907.8 396.2 L908.6 396.4" stroke="#0000ff" stroke-width="2.8"/>
<path d="M148.2 607.0C150.6 607.0 159.9 606.6 162.5 607.0C165.1 607.4 163.6 609.1 164.0 609.5C164.4 609.9 164.8 610.0 165.2 609.5C165.6 609.0 166.1 607.5 166.5 606.8C166.9 606.1 167.5 605.6 167.9 605.3C168.3 605.0 168.7 604.8 169.1 604.8C169.5 604.8 169.9 605.0 170.3 605.3C170.7 605.6 171.2 606.1 171.6 606.8C172.0 607.5 172.4 609.0 172.8 609.5C173.2 610.0 173.6 610.1 174.0 609.5C174.4 608.9 175.0 609.2 175.4 606.0C175.8 602.8 176.0 596.8 176.3 590.0C176.6 583.2 176.9 573.3 177.2 565.0C177.5 556.7 177.8 550.0 178.1 540.0C178.4 530.0 178.8 515.0 179.2 505.0C179.6 495.0 180.0 487.2 180.3 480.0C180.7 472.8 180.9 467.5 181.3 462.0C181.7 456.5 182.1 450.6 182.5 447.0C182.9 443.4 183.5 440.8 184.0 440.5C184.5 440.2 185.1 442.4 185.5 445.0C185.9 447.6 186.2 451.8 186.7 456.0C187.2 460.2 187.8 465.7 188.4 470.0C189.0 474.3 189.5 478.6 190.0 482.0C190.5 485.4 190.7 488.0 191.3 490.7C191.9 493.4 192.7 496.0 193.5 498.0C194.3 500.0 195.2 501.4 196.0 502.5C196.8 503.6 196.9 503.8 198.1 504.3C199.3 504.8 201.2 505.3 203.0 505.5C204.8 505.7 207.4 505.8 208.9 505.6C210.4 505.4 211.1 504.8 212.0 504.5C212.9 504.2 213.7 503.5 214.4 503.7C215.2 503.9 215.8 504.5 216.5 505.5C217.2 506.5 217.6 507.3 218.4 509.7C219.2 512.1 220.4 515.5 221.5 520.0C222.6 524.5 223.9 531.9 225.2 536.9C226.4 541.9 227.6 546.2 229.0 550.0C230.4 553.8 232.0 557.2 233.4 559.6C234.8 562.0 235.9 563.2 237.5 564.3C239.1 565.4 241.1 566.2 242.7 566.4C244.3 566.6 245.5 565.8 247.0 565.5C248.5 565.2 250.2 564.5 251.6 564.5C253.0 564.5 254.0 565.4 255.4 565.4C256.8 565.4 258.5 564.6 259.9 564.5C261.2 564.4 262.2 564.8 263.5 565.0C264.8 565.2 266.2 565.3 267.5 565.6C268.8 565.9 270.1 566.4 271.5 566.8C272.9 567.1 274.4 567.7 275.8 567.7C277.2 567.8 278.6 567.0 280.0 567.1C281.4 567.2 282.4 567.7 284.0 568.5C285.6 569.3 287.6 570.9 289.5 571.8C291.4 572.7 293.0 573.7 295.2 574.1C297.4 574.5 300.8 574.4 302.9 574.1C305.0 573.9 306.3 573.1 308.0 572.6C309.7 572.1 310.9 571.5 313.0 571.3C315.1 571.1 318.6 571.1 320.7 571.5C322.8 571.9 323.8 573.8 325.7 573.8C327.6 573.8 330.4 571.7 332.1 571.3C333.8 570.9 334.7 571.4 336.0 571.6C337.3 571.9 338.2 572.8 339.7 572.8C341.2 572.8 343.2 571.8 344.8 571.8C346.4 571.8 347.5 572.5 349.0 573.0C350.5 573.5 351.6 574.4 353.7 574.7C355.8 575.0 358.8 574.9 361.3 574.7C363.8 574.5 366.9 573.4 368.9 573.4C370.8 573.4 371.5 574.5 373.0 575.0C374.5 575.5 376.0 576.5 377.8 576.6C379.6 576.7 381.9 576.0 384.0 575.8C386.1 575.5 388.7 575.2 390.5 575.1C392.3 575.0 393.4 575.2 395.0 575.4C396.6 575.5 398.2 575.7 400.0 576.0C401.8 576.3 403.9 576.9 406.0 577.3C408.1 577.7 410.5 578.2 412.7 578.2C414.9 578.2 416.7 577.4 419.0 577.2C421.3 577.0 423.8 576.6 426.3 576.9C428.8 577.2 431.4 578.7 433.9 578.9C436.3 579.1 438.4 578.4 441.0 578.2C443.6 578.0 446.7 577.6 449.2 577.7C451.7 577.8 453.6 578.6 455.9 578.9C458.1 579.2 459.6 579.3 462.7 579.4C465.8 579.5 471.5 579.2 474.6 579.4C477.7 579.6 479.6 580.7 481.4 580.6C483.2 580.5 484.1 579.5 485.5 579.0C486.9 578.5 487.9 577.6 489.8 577.7C491.7 577.9 493.8 579.4 496.6 579.9C499.4 580.4 504.4 580.2 506.8 580.6C509.2 581.0 509.3 582.2 511.0 582.3C512.7 582.4 515.2 581.2 517.0 581.1C518.8 581.0 520.3 582.0 522.0 581.9C523.7 581.8 525.1 580.5 527.1 580.3C529.1 580.1 531.8 580.3 533.9 580.6C536.0 580.9 538.1 582.2 539.8 582.3C541.5 582.4 542.3 580.9 544.1 581.1C545.9 581.3 548.5 583.2 550.8 583.3C553.0 583.4 555.3 581.9 557.6 581.6C559.9 581.3 562.4 581.3 564.5 581.4C566.6 581.5 568.1 582.1 570.0 582.4C571.9 582.7 573.7 583.1 576.0 583.0C578.3 582.9 580.8 581.8 583.6 581.8C586.5 581.8 590.2 583.3 593.1 583.3C596.0 583.3 598.6 581.8 600.8 581.8C602.9 581.8 604.1 582.7 606.0 583.0C607.9 583.3 610.2 583.8 612.2 583.7C614.2 583.6 615.9 582.7 617.9 582.6C619.9 582.5 621.8 583.1 624.0 583.4C626.2 583.7 629.1 584.6 631.3 584.5C633.5 584.4 634.8 583.1 637.0 583.0C639.2 582.9 642.1 583.7 644.6 584.1C647.1 584.5 649.9 585.4 652.3 585.3C654.7 585.2 656.0 583.5 658.9 583.3C661.8 583.1 666.0 584.1 669.4 584.1C672.8 584.1 675.2 583.2 679.0 583.3C682.8 583.4 687.9 584.1 692.3 584.5C696.7 584.9 702.1 585.7 705.6 585.6C709.1 585.5 709.8 584.4 713.3 584.1C716.8 583.8 723.3 583.8 726.6 583.7C729.9 583.6 730.7 583.6 733.0 583.4C735.3 583.2 737.8 582.5 740.5 582.6C743.2 582.7 745.8 583.5 749.1 583.7C752.4 584.0 757.0 584.2 760.5 584.1C764.0 584.0 766.8 583.0 770.0 583.0C773.2 583.0 776.4 583.8 779.6 584.1C782.8 584.4 785.6 584.8 789.1 584.9C792.6 585.0 796.6 585.2 800.6 584.9C804.6 584.6 809.2 583.1 813.0 583.0C816.8 582.9 819.4 583.9 823.4 584.1C827.4 584.4 832.7 584.2 836.8 584.5C840.9 584.8 843.8 585.4 848.2 585.6C852.7 585.8 859.0 585.7 863.5 585.6C868.0 585.5 871.7 585.0 874.9 584.9C878.1 584.8 879.7 584.9 882.6 585.3C885.5 585.7 889.6 587.0 892.1 587.2C894.6 587.4 895.0 586.4 897.8 586.4C900.5 586.4 906.8 587.1 908.6 587.2" stroke="#ff00ff" stroke-width="3"/>
</g>
<g stroke="#000" stroke-width="2" fill="none">
<line x1="562.1" y1="27.5" x2="562.1" y2="287.7" stroke-width="1.8"/>
<line x1="562.4" y1="286.8" x2="908.6" y2="286.8"/>
<line x1="562.4" y1="276.0" x2="566.4" y2="276.0"/>
<line x1="562.4" y1="265.2" x2="566.4" y2="265.2"/>
<line x1="562.4" y1="254.5" x2="566.4" y2="254.5"/>
<line x1="562.4" y1="243.7" x2="570.4" y2="243.7"/>
<line x1="562.4" y1="232.9" x2="566.4" y2="232.9"/>
<line x1="562.4" y1="222.2" x2="566.4" y2="222.2"/>
<line x1="562.4" y1="211.4" x2="566.4" y2="211.4"/>
<line x1="562.4" y1="200.6" x2="570.4" y2="200.6"/>
<line x1="562.4" y1="189.8" x2="566.4" y2="189.8"/>
<line x1="562.4" y1="179.1" x2="566.4" y2="179.1"/>
<line x1="562.4" y1="168.3" x2="566.4" y2="168.3"/>
<line x1="562.4" y1="157.5" x2="570.4" y2="157.5"/>
<line x1="562.4" y1="146.7" x2="566.4" y2="146.7"/>
<line x1="562.4" y1="135.9" x2="566.4" y2="135.9"/>
<line x1="562.4" y1="125.2" x2="566.4" y2="125.2"/>
<line x1="562.4" y1="114.4" x2="570.4" y2="114.4"/>
<line x1="562.4" y1="103.6" x2="566.4" y2="103.6"/>
<line x1="562.4" y1="92.9" x2="566.4" y2="92.9"/>
<line x1="562.4" y1="82.1" x2="566.4" y2="82.1"/>
<line x1="562.4" y1="71.3" x2="570.4" y2="71.3"/>
<line x1="562.4" y1="60.5" x2="566.4" y2="60.5"/>
<line x1="562.4" y1="49.8" x2="566.4" y2="49.8"/>
<line x1="562.4" y1="39.0" x2="566.4" y2="39.0"/>
<line x1="576.2" y1="286.8" x2="576.2" y2="283.3"/>
<line x1="590.1" y1="286.8" x2="590.1" y2="283.3"/>
<line x1="603.9" y1="286.8" x2="603.9" y2="283.3"/>
<line x1="617.7" y1="286.8" x2="617.7" y2="283.3"/>
<line x1="631.5" y1="286.8" x2="631.5" y2="279.8"/>
<line x1="645.4" y1="286.8" x2="645.4" y2="283.3"/>
<line x1="659.2" y1="286.8" x2="659.2" y2="283.3"/>
<line x1="673.0" y1="286.8" x2="673.0" y2="283.3"/>
<line x1="686.9" y1="286.8" x2="686.9" y2="283.3"/>
<line x1="700.7" y1="286.8" x2="700.7" y2="279.8"/>
<line x1="714.5" y1="286.8" x2="714.5" y2="283.3"/>
<line x1="728.4" y1="286.8" x2="728.4" y2="283.3"/>
<line x1="742.2" y1="286.8" x2="742.2" y2="283.3"/>
<line x1="756.0" y1="286.8" x2="756.0" y2="283.3"/>
<line x1="769.8" y1="286.8" x2="769.8" y2="279.8"/>
<line x1="783.7" y1="286.8" x2="783.7" y2="283.3"/>
<line x1="797.5" y1="286.8" x2="797.5" y2="283.3"/>
<line x1="811.3" y1="286.8" x2="811.3" y2="283.3"/>
<line x1="825.2" y1="286.8" x2="825.2" y2="283.3"/>
<line x1="839.0" y1="286.8" x2="839.0" y2="279.8"/>
<line x1="852.8" y1="286.8" x2="852.8" y2="283.3"/>
<line x1="866.7" y1="286.8" x2="866.7" y2="283.3"/>
<line x1="880.5" y1="286.8" x2="880.5" y2="283.3"/>
<line x1="894.3" y1="286.8" x2="894.3" y2="283.3"/>
</g>
<g clip-path="url(#ci)" fill="none" stroke-linejoin="round" stroke-linecap="round">
<line x1="595.4" y1="287" x2="595.4" y2="27" stroke="#ff00ff" stroke-width="1.9" stroke-dasharray="6.8 7.1" stroke-linecap="butt"/>
<line x1="706.6" y1="287" x2="706.6" y2="27" stroke="#ff00ff" stroke-width="1.9" stroke-dasharray="6.8 7.1" stroke-linecap="butt"/>
<line x1="748.0" y1="287" x2="748.0" y2="27" stroke="#ff0000" stroke-width="1.9" stroke-dasharray="6.8 7.1" stroke-linecap="butt"/>
<line x1="759.1" y1="287" x2="759.1" y2="27" stroke="#0000ff" stroke-width="1.9" stroke-dasharray="6.8 7.1" stroke-linecap="butt"/>
<path d="M562.4 286.8C563.0 284.7 564.7 278.4 566.0 274.0C567.3 269.6 568.8 264.9 570.1 260.1C571.4 255.3 572.7 250.0 574.0 245.0C575.3 240.0 576.8 234.7 578.1 230.1C579.4 225.5 580.7 221.5 582.0 217.5C583.3 213.5 584.9 209.2 586.1 206.0C587.4 202.8 588.4 200.5 589.5 198.5C590.6 196.5 591.9 195.1 593.0 194.2C594.1 193.3 594.9 193.1 596.0 193.2C597.1 193.2 598.3 193.8 599.5 194.5C600.7 195.2 601.9 196.3 603.0 197.2C604.1 198.1 604.6 198.4 606.1 200.0C607.6 201.6 610.0 204.7 612.0 207.0C614.0 209.3 616.0 211.7 618.2 213.8C620.4 215.9 622.3 217.6 625.0 219.5C627.7 221.4 630.9 223.5 634.2 225.0C637.5 226.5 641.5 227.5 645.0 228.3C648.5 229.1 651.6 229.4 654.9 229.7C658.2 230.0 661.0 230.2 665.0 230.2C669.0 230.2 674.4 230.1 678.6 229.9C682.8 229.7 686.8 229.4 690.0 229.2C693.2 229.0 695.4 228.7 698.0 228.6C700.6 228.5 703.5 228.4 705.8 228.5C708.1 228.6 709.6 228.9 712.0 229.3C714.4 229.7 717.0 230.1 720.0 231.0C723.0 231.9 726.7 233.5 730.0 235.0C733.3 236.5 737.0 238.1 740.0 239.8C743.0 241.5 744.9 243.1 748.1 245.0C751.3 246.9 755.4 249.5 759.0 251.4C762.6 253.3 766.5 255.2 770.0 256.5C773.5 257.9 776.7 258.7 780.0 259.5C783.3 260.3 786.7 260.8 790.0 261.3C793.3 261.8 796.4 262.0 800.0 262.3C803.6 262.6 806.5 262.8 811.5 262.9C816.5 263.0 821.9 263.1 830.0 263.1C838.1 263.1 850.8 263.0 860.0 263.0C869.2 263.0 876.8 262.9 885.0 263.0C893.2 263.1 905.0 263.2 909.0 263.3" stroke="#ff00ff" stroke-width="2.0"/>
<path d="M588.3 0.0C588.4 4.6 588.5 18.3 588.8 27.5C589.1 36.7 589.5 45.5 589.9 55.0C590.3 64.5 590.7 75.9 591.1 84.4C591.5 92.9 592.0 98.8 592.5 106.0C593.0 113.2 593.6 121.1 594.1 127.3C594.6 133.5 595.0 137.6 595.5 143.0C596.0 148.4 596.5 155.0 596.9 159.5C597.3 164.0 597.7 166.8 598.1 170.0C598.5 173.2 599.0 176.2 599.5 178.5C600.0 180.8 600.3 182.3 600.8 184.0C601.3 185.7 601.6 186.8 602.4 188.6C603.2 190.3 604.4 192.8 605.5 194.5C606.6 196.2 607.6 197.6 609.2 198.8C610.8 200.0 612.8 200.9 615.0 201.5C617.2 202.1 620.2 202.5 622.7 202.6C625.2 202.7 627.7 202.2 630.0 201.8C632.3 201.4 634.1 201.0 636.3 200.3C638.5 199.6 640.5 198.9 643.0 197.8C645.5 196.7 648.7 195.1 651.5 193.5C654.3 191.9 656.4 190.4 660.0 188.0C663.6 185.6 669.4 181.6 672.9 179.1C676.4 176.6 678.1 175.3 681.0 173.0C683.9 170.7 687.3 167.9 690.1 165.2C692.9 162.5 695.3 159.9 698.0 157.0C700.7 154.1 703.7 151.1 706.2 148.0C708.7 144.9 710.7 141.7 713.0 138.5C715.3 135.3 717.9 131.9 720.1 128.7C722.3 125.5 723.9 122.9 726.3 119.5C728.7 116.1 732.0 111.5 734.3 108.5C736.6 105.5 738.2 103.5 740.0 101.6C741.8 99.7 743.3 98.5 745.0 97.3C746.7 96.1 748.3 95.1 750.0 94.4C751.7 93.7 753.5 93.2 755.0 92.9C756.5 92.6 757.7 92.5 759.0 92.5C760.3 92.5 761.4 92.6 763.0 93.1C764.6 93.6 766.8 94.5 768.6 95.6C770.4 96.7 772.1 98.0 774.0 99.6C775.9 101.2 777.9 103.1 780.1 105.2C782.4 107.3 785.0 109.7 787.5 112.0C790.0 114.3 792.1 116.2 795.0 119.0C797.9 121.8 801.2 125.3 805.0 128.5C808.8 131.7 814.3 135.9 817.8 138.1C821.3 140.3 823.1 141.0 826.0 141.8C828.9 142.6 831.9 143.0 835.1 142.9C838.3 142.8 841.1 142.0 845.0 141.0C848.9 140.0 854.4 138.3 858.7 137.1C863.0 135.9 866.8 134.9 871.0 133.8C875.2 132.8 879.7 131.9 883.9 130.8C888.1 129.8 891.8 128.6 896.0 127.5C900.2 126.5 906.8 125.0 909.0 124.5" stroke="#0000ff" stroke-width="1.9"/>
<path d="M592.7 -0.0 L592.7 1.1 L592.7 2.1 L592.8 2.7 L592.8 4.4 L592.8 5.9 L592.8 6.9 L592.9 8.7 L592.9 10.6 L592.9 11.9 L592.9 14.1 L593.0 15.4 L593.0 17.5 L593.0 18.8 L593.1 20.6 L593.1 22.5 L593.2 23.5 L593.2 24.9 L593.3 26.4 L593.3 27.4 L593.4 29.5 L593.5 31.5 L593.6 33.0 L593.7 35.0 L593.8 36.1 L594.0 37.5 L594.2 38.3 L594.5 40.2 L594.8 41.1 L595.2 42.8 L595.6 44.3 L596.0 45.6 L596.5 47.4 L596.9 48.6 L597.3 50.0 L597.7 51.6 L598.1 52.4 L598.4 54.7 L598.8 56.0 L599.1 57.4 L599.3 59.2 L599.6 60.4 L599.8 62.4 L600.1 63.6 L600.4 65.0 L600.6 66.8 L600.9 68.1 L601.1 69.4 L601.3 71.3 L601.6 72.3 L601.9 74.4 L602.2 75.5 L602.5 77.4 L602.9 79.2 L603.2 80.5 L603.6 82.1 L603.9 83.4 L604.3 84.7 L604.7 86.2 L605.1 87.8 L605.5 89.7 L605.9 91.1 L606.3 92.6 L606.7 94.4 L607.2 95.4 L607.6 96.8 L608.1 98.5 L608.6 99.3 L609.0 100.7 L609.5 102.3 L610.0 103.5 L610.6 105.0 L611.1 106.3 L611.6 107.9 L612.2 109.3 L612.8 110.3 L613.4 112.1 L614.0 113.3 L614.6 114.3 L615.2 116.3 L615.8 116.8 L616.6 118.2 L617.4 119.6 L618.2 121.6 L619.0 123.2 L619.8 124.4 L620.6 125.3 L621.4 126.8 L622.1 128.0 L622.8 130.1 L623.6 131.4 L624.5 132.5 L625.5 134.1 L626.5 135.0 L627.7 136.8 L628.8 137.5 L630.0 137.4 L631.5 139.4 L633.0 138.2 L634.6 139.6 L636.0 139.6 L637.8 139.4 L639.4 138.9 L641.0 140.3 L642.9 138.4 L645.0 138.9 L646.4 139.3 L648.0 137.1 L649.7 136.6 L651.5 136.7 L652.9 135.9 L654.4 135.5 L656.0 135.1 L657.5 133.1 L659.0 132.6 L660.2 132.0 L661.5 131.0 L662.8 132.0 L664.0 131.2 L665.2 130.4 L666.5 128.4 L667.8 129.1 L669.0 128.0 L670.2 126.7 L671.5 126.2 L672.8 124.8 L674.0 123.5 L675.3 122.3 L676.5 121.6 L677.8 120.3 L679.1 119.8 L680.3 119.5 L681.5 118.4 L682.6 117.5 L683.7 116.3 L684.8 114.5 L685.9 113.8 L686.9 112.5 L688.0 111.9 L689.1 110.4 L690.2 109.0 L691.3 108.4 L692.3 107.8 L693.4 105.6 L694.4 105.3 L695.4 103.1 L696.3 102.2 L697.2 100.9 L698.1 100.2 L699.0 99.2 L700.0 97.7 L700.9 96.1 L701.7 95.7 L702.7 93.8 L703.6 92.6 L704.5 92.3 L705.4 90.9 L706.3 89.8 L707.2 88.6 L708.1 87.8 L709.0 86.0 L710.0 85.2 L710.9 83.8 L711.7 82.9 L712.6 81.3 L713.7 80.2 L714.8 78.7 L715.9 77.1 L717.0 75.7 L718.0 75.1 L719.0 73.2 L720.0 73.3 L720.9 71.2 L721.9 70.1 L722.9 69.2 L724.1 69.3 L725.4 67.2 L726.6 65.8 L728.0 64.5 L729.1 63.6 L730.3 63.7 L731.5 62.7 L732.8 61.9 L734.3 61.0 L735.5 59.1 L736.8 59.3 L738.2 58.1 L739.6 58.2 L741.0 57.5 L742.3 57.0 L743.5 54.9 L745.3 55.9 L746.9 55.6 L748.5 55.5 L750.3 53.7 L751.7 54.1 L753.2 54.2 L754.8 54.4 L756.4 56.6 L757.9 57.1 L759.5 57.5 L760.8 58.5 L762.1 58.9 L763.4 59.1 L764.7 59.8 L766.0 60.8 L767.3 62.9 L768.6 63.2 L769.6 64.4 L770.6 65.6 L771.7 66.2 L772.7 67.6 L773.7 68.9 L774.7 70.7 L775.8 71.4 L776.8 72.6 L777.8 74.7 L778.7 75.2 L779.7 76.8 L780.7 77.7 L781.6 78.2 L782.6 79.9 L783.6 81.1 L784.5 82.7 L785.4 83.3 L786.2 84.8 L787.0 85.6 L788.2 86.6 L789.2 88.7 L790.1 88.9 L791.0 90.9 L792.0 91.1 L793.0 92.1 L793.9 93.4 L794.9 95.2 L795.9 96.6 L796.9 96.4 L797.9 98.1 L798.9 99.2 L800.0 100.7 L801.1 100.9 L802.2 102.4 L803.3 103.3 L804.4 105.1 L805.6 105.3 L806.8 107.3 L808.0 107.3 L809.2 108.0 L810.4 109.7 L811.7 110.2 L813.0 110.3 L814.2 112.1 L815.5 111.8 L816.7 113.8 L817.8 114.3 L819.4 115.4 L820.8 115.8 L822.2 116.0 L823.5 116.6 L825.0 117.0 L826.4 118.4 L827.8 117.0 L829.3 119.0 L830.8 117.3 L832.2 117.8 L833.5 118.0 L835.3 119.4 L836.9 118.3 L838.5 117.8 L840.0 118.6 L841.4 117.0 L842.6 117.1 L844.0 116.9 L846.0 116.8 L847.1 116.5 L848.4 115.9 L849.8 114.9 L851.2 114.5 L852.7 113.7 L854.2 114.7 L855.8 113.9 L857.3 113.7 L858.7 112.1 L860.1 112.4 L861.4 112.7 L862.8 112.0 L864.2 110.7 L865.5 111.2 L866.9 111.8 L868.2 110.1 L869.6 109.7 L871.0 109.6 L872.4 110.2 L873.8 110.2 L875.3 108.4 L876.7 108.1 L878.2 108.0 L879.6 107.9 L881.1 108.0 L882.5 106.9 L883.9 107.0 L885.4 106.3 L887.0 107.7 L888.5 106.8 L889.9 105.1 L891.4 106.6 L892.9 104.4 L894.4 104.6 L896.0 105.6 L897.5 104.8 L899.1 104.3 L900.7 103.3 L902.4 102.4 L904.1 103.0 L905.6 101.5 L907.0 101.4 L908.1 101.5 L909.0 100.5" stroke="#000" stroke-width="1.5"/>
<path d="M592.7 0.0C592.8 4.6 593.0 20.8 593.3 27.5C593.6 34.2 594.1 35.9 594.5 40.0C594.9 44.1 595.3 48.4 595.8 52.2C596.3 56.0 596.8 59.4 597.3 63.0C597.8 66.6 598.4 70.0 599.1 73.6C599.8 77.2 600.6 80.9 601.5 84.5C602.4 88.1 603.3 91.5 604.4 95.1C605.5 98.7 606.9 102.4 608.3 106.0C609.7 109.6 611.4 113.4 613.0 116.6C614.6 119.8 616.2 122.3 618.0 125.0C619.8 127.7 621.7 130.5 623.7 132.7C625.7 134.9 628.0 137.0 630.0 138.3C632.0 139.6 634.2 140.1 636.0 140.4C637.8 140.7 639.5 140.5 641.0 140.3C642.5 140.1 643.2 140.0 645.0 139.4C646.8 138.8 649.2 138.0 651.5 137.0C653.8 136.0 656.5 134.7 659.0 133.5C661.5 132.3 664.0 131.2 666.5 129.7C669.0 128.2 671.5 126.2 674.0 124.3C676.5 122.4 679.2 120.5 681.5 118.4C683.8 116.3 685.9 114.0 688.0 111.8C690.1 109.6 692.4 107.5 694.4 105.1C696.4 102.7 698.0 100.1 700.0 97.6C702.0 95.0 704.2 92.5 706.3 89.8C708.4 87.1 710.6 84.0 712.6 81.6C714.6 79.2 716.3 77.1 718.0 75.2C719.7 73.3 721.2 71.7 722.9 70.1C724.6 68.5 726.1 67.1 728.0 65.6C729.9 64.1 731.7 62.5 734.3 61.0C736.9 59.5 740.8 57.3 743.5 56.3C746.2 55.3 747.6 55.0 750.3 55.2C753.0 55.4 756.5 56.2 759.5 57.7C762.5 59.2 765.6 61.2 768.6 64.0C771.6 66.8 774.7 70.7 777.8 74.3C780.9 77.9 784.5 82.7 787.0 85.8C789.5 88.9 790.8 90.5 793.0 93.0C795.2 95.5 797.5 98.1 800.0 100.6C802.5 103.1 805.0 105.7 808.0 108.0C811.0 110.3 815.0 112.8 817.8 114.4C820.6 116.0 822.4 117.0 825.0 117.8C827.6 118.6 831.0 119.0 833.5 119.1C836.0 119.2 837.9 118.8 840.0 118.4C842.1 118.0 842.9 117.6 846.0 116.8C849.1 116.0 854.5 114.4 858.7 113.4C862.9 112.4 866.8 111.5 871.0 110.6C875.2 109.7 879.7 108.8 883.9 107.9C888.1 107.0 891.8 106.1 896.0 105.1C900.2 104.1 906.8 102.6 909.0 102.1" stroke="#ff0000" stroke-width="2.1"/>
</g>
<g stroke="#000" stroke-width="1.3" fill="none">
<line x1="616.1" y1="553" x2="878.6" y2="553"/>
<line x1="616.1" y1="553" x2="616.1" y2="546.5"/>
<line x1="622.7" y1="553" x2="622.7" y2="549.8"/>
<line x1="629.2" y1="553" x2="629.2" y2="549.8"/>
<line x1="635.8" y1="553" x2="635.8" y2="549.8"/>
<line x1="642.4" y1="553" x2="642.4" y2="549.8"/>
<line x1="648.9" y1="553" x2="648.9" y2="546.5"/>
<line x1="655.5" y1="553" x2="655.5" y2="549.8"/>
<line x1="662.0" y1="553" x2="662.0" y2="549.8"/>
<line x1="668.6" y1="553" x2="668.6" y2="549.8"/>
<line x1="675.2" y1="553" x2="675.2" y2="549.8"/>
<line x1="681.7" y1="553" x2="681.7" y2="546.5"/>
<line x1="688.3" y1="553" x2="688.3" y2="549.8"/>
<line x1="694.9" y1="553" x2="694.9" y2="549.8"/>
<line x1="701.4" y1="553" x2="701.4" y2="549.8"/>
<line x1="708.0" y1="553" x2="708.0" y2="549.8"/>
<line x1="714.5" y1="553" x2="714.5" y2="546.5"/>
<line x1="721.1" y1="553" x2="721.1" y2="549.8"/>
<line x1="727.7" y1="553" x2="727.7" y2="549.8"/>
<line x1="734.2" y1="553" x2="734.2" y2="549.8"/>
<line x1="740.8" y1="553" x2="740.8" y2="549.8"/>
<line x1="747.4" y1="553" x2="747.4" y2="546.5"/>
<line x1="753.9" y1="553" x2="753.9" y2="549.8"/>
<line x1="760.5" y1="553" x2="760.5" y2="549.8"/>
<line x1="767.0" y1="553" x2="767.0" y2="549.8"/>
<line x1="773.6" y1="553" x2="773.6" y2="549.8"/>
<line x1="780.2" y1="553" x2="780.2" y2="546.5"/>
<line x1="786.7" y1="553" x2="786.7" y2="549.8"/>
<line x1="793.3" y1="553" x2="793.3" y2="549.8"/>
<line x1="799.9" y1="553" x2="799.9" y2="549.8"/>
<line x1="806.4" y1="553" x2="806.4" y2="549.8"/>
<line x1="813.0" y1="553" x2="813.0" y2="546.5"/>
<line x1="819.5" y1="553" x2="819.5" y2="549.8"/>
<line x1="826.1" y1="553" x2="826.1" y2="549.8"/>
<line x1="832.7" y1="553" x2="832.7" y2="549.8"/>
<line x1="839.2" y1="553" x2="839.2" y2="549.8"/>
<line x1="845.8" y1="553" x2="845.8" y2="546.5"/>
<line x1="852.4" y1="553" x2="852.4" y2="549.8"/>
<line x1="858.9" y1="553" x2="858.9" y2="549.8"/>
<line x1="865.5" y1="553" x2="865.5" y2="549.8"/>
<line x1="872.0" y1="553" x2="872.0" y2="549.8"/>
<line x1="878.6" y1="553" x2="878.6" y2="546.5"/>
<path d="M616.1 552.5C617.1 552.3 619.9 551.9 622.0 551.5C624.1 551.1 626.6 550.5 628.8 550.0C631.0 549.5 632.7 549.3 635.0 548.8C637.3 548.3 639.9 547.7 642.4 547.1C644.9 546.5 647.5 545.8 650.0 545.0C652.5 544.2 655.3 543.1 657.6 542.4C659.9 541.7 661.7 541.4 664.0 541.0C666.3 540.6 668.0 540.5 671.2 540.2C674.4 539.9 680.1 539.7 683.1 539.3C686.1 538.9 687.2 538.6 689.0 538.0C690.8 537.4 692.6 537.0 694.1 535.9C695.6 534.8 697.1 532.6 698.3 531.4C699.4 530.2 700.0 529.5 701.0 528.6C702.0 527.8 703.4 527.6 704.2 526.3C705.1 525.0 705.5 522.5 706.1 521.0C706.7 519.5 707.0 518.3 707.6 517.0C708.2 515.7 708.8 514.3 709.5 513.0C710.2 511.7 710.9 511.2 711.7 509.0C712.6 506.8 713.6 504.1 714.6 500.0C715.6 495.9 716.8 487.7 717.7 484.4C718.6 481.1 719.2 481.2 720.0 480.0C720.8 478.8 721.4 480.3 722.2 477.3C723.0 474.3 724.1 466.8 725.0 462.0C725.9 457.2 726.7 452.2 727.6 448.7C728.5 445.2 729.6 443.4 730.5 441.0C731.4 438.6 732.1 437.2 732.9 434.4C733.6 431.6 734.2 427.3 735.0 424.0C735.8 420.7 736.5 417.2 737.4 414.7C738.3 412.2 739.5 410.4 740.5 409.0C741.5 407.6 742.6 406.5 743.7 406.1C744.8 405.7 746.0 406.0 747.2 406.6C748.4 407.2 749.8 408.1 751.0 409.5C752.2 410.9 753.4 412.6 754.4 414.7C755.4 416.8 756.1 419.3 757.0 422.0C757.9 424.7 758.8 427.8 759.8 430.8C760.8 433.8 761.8 436.7 763.0 440.0C764.2 443.3 765.7 446.8 766.9 450.5C768.1 454.2 769.0 458.1 770.0 462.0C771.0 465.9 772.3 470.7 773.2 473.7C774.1 476.7 774.8 477.8 775.6 480.0C776.4 482.2 777.1 484.5 778.0 487.0C778.9 489.5 780.2 492.9 781.2 495.2C782.2 497.4 783.1 498.9 784.0 500.5C784.9 502.1 785.8 502.5 786.7 504.5C787.7 506.5 788.7 510.7 789.7 512.6C790.8 514.5 791.9 514.8 793.0 515.8C794.1 516.8 795.1 517.1 796.3 518.6C797.5 520.1 798.5 523.0 800.0 524.5C801.5 526.0 803.4 526.5 805.0 527.5C806.6 528.5 808.3 530.1 809.7 530.7C811.1 531.3 812.0 530.7 813.4 531.2C814.8 531.7 816.5 533.0 818.0 533.8C819.5 534.6 820.3 535.5 822.3 536.1C824.2 536.7 827.5 536.6 829.7 537.1C831.9 537.6 833.4 538.4 835.6 538.9C837.8 539.4 839.5 539.7 843.0 540.1C846.5 540.5 852.4 540.8 856.4 541.1C860.4 541.4 863.3 541.6 867.0 541.8C870.7 542.0 876.7 542.2 878.6 542.3" stroke-width="1.3"/>
</g>
<g font-family='"Liberation Serif", serif' fill="#000">
<text transform="translate(124 618.2) scale(1 1.075)" font-size="32" text-anchor="end">0.00</text>
<text transform="translate(124 502.2) scale(1 1.075)" font-size="32" text-anchor="end">0.03</text>
<text transform="translate(124 386.3) scale(1 1.075)" font-size="32" text-anchor="end">0.06</text>
<text transform="translate(124 270.3) scale(1 1.075)" font-size="32" text-anchor="end">0.09</text>
<text transform="translate(124 154.4) scale(1 1.075)" font-size="32" text-anchor="end">0.12</text>
<text transform="translate(124 38.4) scale(1 1.075)" font-size="32" text-anchor="end">0.15</text>
<text transform="translate(175.3 647.1) scale(1 1.075)" font-size="32" text-anchor="middle">0</text>
<text transform="translate(248.6 647.1) scale(1 1.075)" font-size="32" text-anchor="middle">20</text>
<text transform="translate(322.0 647.1) scale(1 1.075)" font-size="32" text-anchor="middle">40</text>
<text transform="translate(395.3 647.1) scale(1 1.075)" font-size="32" text-anchor="middle">60</text>
<text transform="translate(468.6 647.1) scale(1 1.075)" font-size="32" text-anchor="middle">80</text>
<text transform="translate(542.0 647.1) scale(1 1.075)" font-size="32" text-anchor="middle">100</text>
<text transform="translate(615.3 647.1) scale(1 1.075)" font-size="32" text-anchor="middle">120</text>
<text transform="translate(688.6 647.1) scale(1 1.075)" font-size="32" text-anchor="middle">140</text>
<text transform="translate(762.0 647.1) scale(1 1.075)" font-size="32" text-anchor="middle">160</text>
<text transform="translate(835.3 647.1) scale(1 1.075)" font-size="32" text-anchor="middle">180</text>
<text transform="translate(908.6 647.1) scale(1 1.075)" font-size="32" text-anchor="middle">200</text>
<text x="524.5" y="684" font-size="39" text-anchor="middle">energy loss (eV)</text>
<text transform="translate(50.3 316.3) rotate(-90)" font-size="39" text-anchor="middle">intensity (arb. units)</text>
<text x="554.5" y="293.3" font-size="19.5" font-weight="bold" text-anchor="end">0.00</text>
<text x="554.5" y="250.2" font-size="19.5" font-weight="bold" text-anchor="end">0.02</text>
<text x="554.5" y="207.1" font-size="19.5" font-weight="bold" text-anchor="end">0.04</text>
<text x="554.5" y="164.0" font-size="19.5" font-weight="bold" text-anchor="end">0.06</text>
<text x="554.5" y="120.9" font-size="19.5" font-weight="bold" text-anchor="end">0.08</text>
<text x="554.5" y="77.8" font-size="19.5" font-weight="bold" text-anchor="end">0.10</text>
<text x="562.4" y="309" font-size="19.5" font-weight="bold" text-anchor="middle">0</text>
<text x="631.5" y="309" font-size="19.5" font-weight="bold" text-anchor="middle">5</text>
<text x="700.7" y="309" font-size="19.5" font-weight="bold" text-anchor="middle">10</text>
<text x="769.8" y="309" font-size="19.5" font-weight="bold" text-anchor="middle">15</text>
<text x="839.0" y="309" font-size="19.5" font-weight="bold" text-anchor="middle">20</text>
<text transform="translate(710.4 55.1) scale(1 1.06)" font-size="16.6">13.3</text>
<text transform="translate(760.2 133.3) scale(1 1.06)" font-size="16.6">14.2</text>
<text transform="translate(567.8 193.1) scale(1 1.06)" font-size="16.6">2.4</text>
<text transform="translate(670.5 226.1) scale(1 1.06)" font-size="16.6">10.4</text>
<text x="616.1" y="572.7" font-size="14" font-weight="bold" text-anchor="middle">-4</text>
<text x="648.9" y="572.7" font-size="14" font-weight="bold" text-anchor="middle">-3</text>
<text x="681.7" y="572.7" font-size="14" font-weight="bold" text-anchor="middle">-2</text>
<text x="714.5" y="572.7" font-size="14" font-weight="bold" text-anchor="middle">-1</text>
<text x="747.4" y="572.7" font-size="14" font-weight="bold" text-anchor="middle">0</text>
<text x="780.2" y="572.7" font-size="14" font-weight="bold" text-anchor="middle">1</text>
<text x="813.0" y="572.7" font-size="14" font-weight="bold" text-anchor="middle">2</text>
<text x="845.8" y="572.7" font-size="14" font-weight="bold" text-anchor="middle">3</text>
<text x="878.6" y="572.7" font-size="14" font-weight="bold" text-anchor="middle">4</text>
</g>
<rect x="282" y="66.8" width="107.2" height="83.7" fill="#000"/>
<rect x="272.8" y="57.6" width="106.6" height="83.5" fill="#fff" stroke="#333" stroke-width="1"/>
<text x="326.8" y="117.9" font-family='"Liberation Serif", serif' font-size="54" font-weight="bold" text-anchor="middle">Sm</text>
<line x1="351.5" y1="393.5" x2="425" y2="393.5" stroke="#000" stroke-width="4.6" stroke-linecap="round"/>
<text x="434" y="405.1" font-family='"Liberation Serif", serif' font-size="32.6">Exp.</text>
<line x1="351.5" y1="434.0" x2="425" y2="434.0" stroke="#ff0000" stroke-width="3.4" stroke-linecap="round"/>
<text x="434" y="445.6" font-family='"Liberation Serif", serif' font-size="32.6">RMC</text>
<line x1="351.5" y1="474.6" x2="425" y2="474.6" stroke="#0000ff" stroke-width="2.6" stroke-linecap="round"/>
<text x="434" y="486.2" font-family='"Liberation Serif", serif' font-size="32.6">bulk</text>
<line x1="351.5" y1="515.3" x2="425" y2="515.3" stroke="#ff00ff" stroke-width="2.6" stroke-linecap="round"/>
<text x="434" y="526.9" font-family='"Liberation Serif", serif' font-size="32.6">surface</text>
</svg>
</body></html>
